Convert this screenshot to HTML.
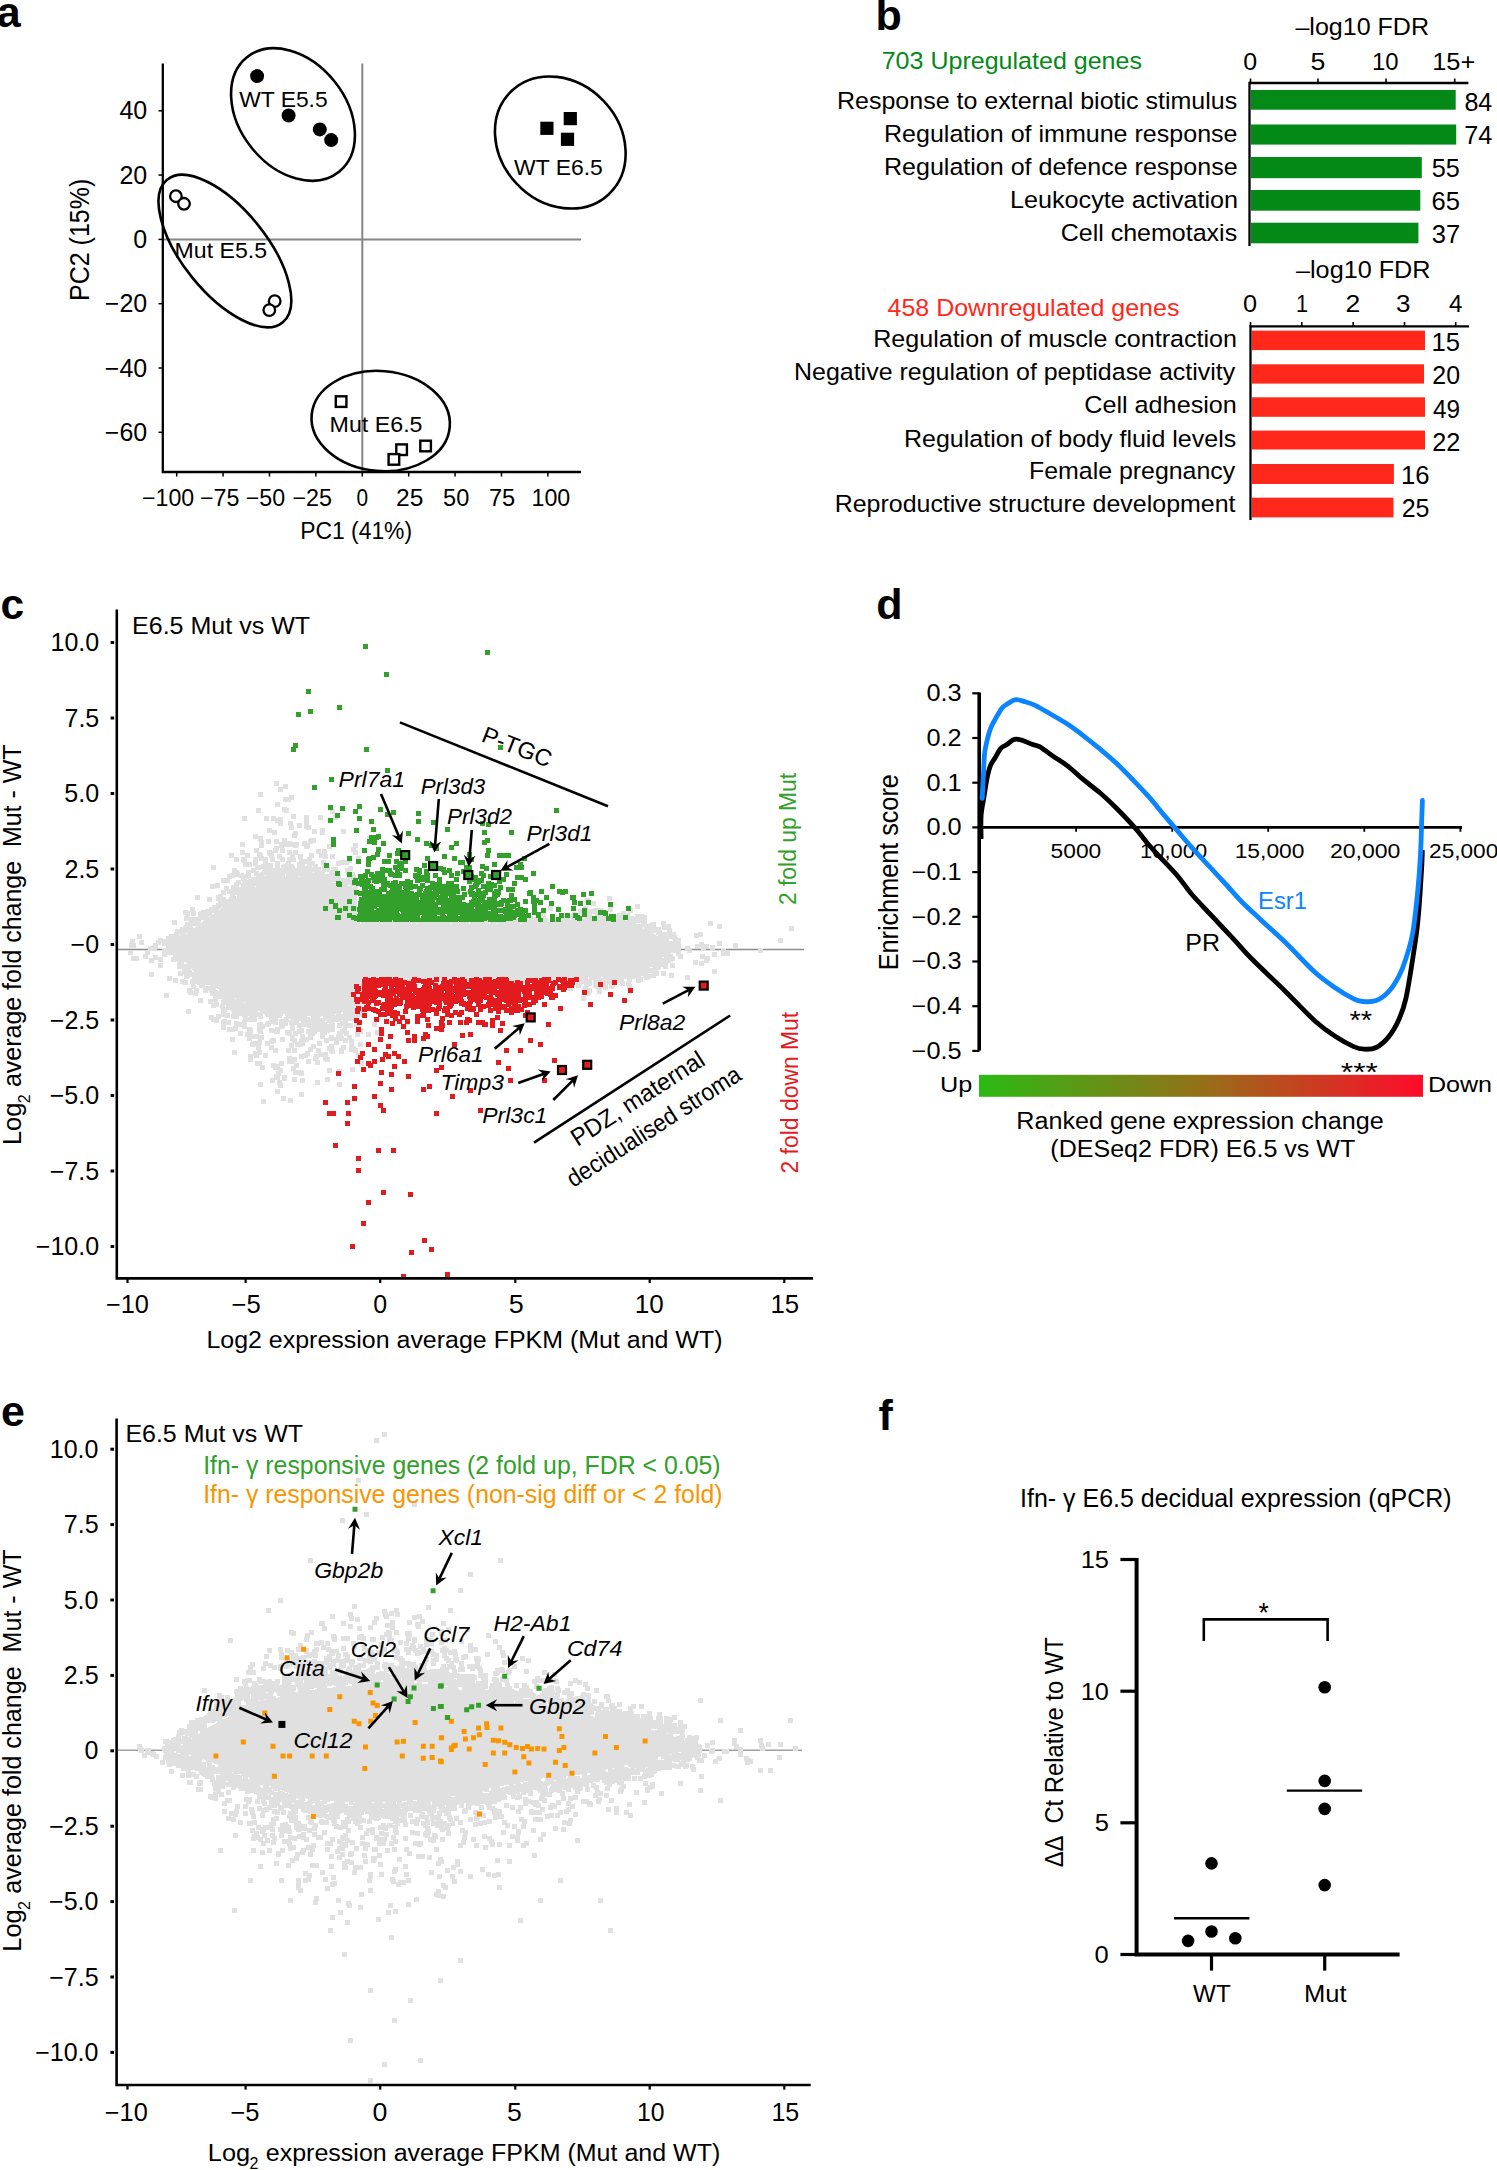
<!DOCTYPE html>
<html><head><meta charset="utf-8"><style>
html,body{margin:0;padding:0;background:#fff;}
svg{display:block;}
text{font-family:"Liberation Sans",sans-serif;white-space:pre;}
</style></head><body>
<svg width="1497" height="2170" viewBox="0 0 1497 2170">
<rect width="1497" height="2170" fill="#fff"/>
<text x="-3.3" y="26.7" font-size="43" textLength="23.9" lengthAdjust="spacingAndGlyphs" font-weight="bold">a</text>
<text x="875.4" y="29.9" font-size="43" textLength="26.3" lengthAdjust="spacingAndGlyphs" font-weight="bold">b</text>
<text x="0.4" y="619.2" font-size="43" textLength="23.6" lengthAdjust="spacingAndGlyphs" font-weight="bold">c</text>
<text x="876.2" y="618.7" font-size="43" textLength="26.3" lengthAdjust="spacingAndGlyphs" font-weight="bold">d</text>
<text x="1.0" y="1426.2" font-size="43" textLength="23.9" lengthAdjust="spacingAndGlyphs" font-weight="bold">e</text>
<text x="878.4" y="1430.2" font-size="43" textLength="14.3" lengthAdjust="spacingAndGlyphs" font-weight="bold">f</text>
<line x1="362.3" y1="63.5" x2="362.3" y2="472.0" stroke="#858585" stroke-width="2"/>
<line x1="162.8" y1="239.4" x2="581.0" y2="239.4" stroke="#858585" stroke-width="2"/>
<path d="M162.8 63.5V472H581" fill="none" stroke="#000" stroke-width="2.3"/>
<line x1="158.5" y1="110.8" x2="162.8" y2="110.8" stroke="#000" stroke-width="1.5"/>
<line x1="158.5" y1="175.1" x2="162.8" y2="175.1" stroke="#000" stroke-width="1.5"/>
<line x1="158.5" y1="239.4" x2="162.8" y2="239.4" stroke="#000" stroke-width="1.5"/>
<line x1="158.5" y1="303.7" x2="162.8" y2="303.7" stroke="#000" stroke-width="1.5"/>
<line x1="158.5" y1="368.0" x2="162.8" y2="368.0" stroke="#000" stroke-width="1.5"/>
<line x1="158.5" y1="432.3" x2="162.8" y2="432.3" stroke="#000" stroke-width="1.5"/>
<line x1="176.7" y1="472.0" x2="176.7" y2="476.5" stroke="#000" stroke-width="1.5"/>
<line x1="223.1" y1="472.0" x2="223.1" y2="476.5" stroke="#000" stroke-width="1.5"/>
<line x1="269.5" y1="472.0" x2="269.5" y2="476.5" stroke="#000" stroke-width="1.5"/>
<line x1="315.9" y1="472.0" x2="315.9" y2="476.5" stroke="#000" stroke-width="1.5"/>
<line x1="362.3" y1="472.0" x2="362.3" y2="476.5" stroke="#000" stroke-width="1.5"/>
<line x1="408.7" y1="472.0" x2="408.7" y2="476.5" stroke="#000" stroke-width="1.5"/>
<line x1="455.1" y1="472.0" x2="455.1" y2="476.5" stroke="#000" stroke-width="1.5"/>
<line x1="501.5" y1="472.0" x2="501.5" y2="476.5" stroke="#000" stroke-width="1.5"/>
<line x1="547.9" y1="472.0" x2="547.9" y2="476.5" stroke="#000" stroke-width="1.5"/>
<text x="119.4" y="119.4" font-size="25" textLength="27.8" lengthAdjust="spacingAndGlyphs">40</text>
<text x="119.4" y="183.7" font-size="25" textLength="27.8" lengthAdjust="spacingAndGlyphs">20</text>
<text x="133.3" y="248.0" font-size="25" textLength="13.9" lengthAdjust="spacingAndGlyphs">0</text>
<text x="104.8" y="312.3" font-size="25" textLength="42.4" lengthAdjust="spacingAndGlyphs">−20</text>
<text x="104.8" y="376.6" font-size="25" textLength="42.4" lengthAdjust="spacingAndGlyphs">−40</text>
<text x="104.8" y="440.9" font-size="25" textLength="42.4" lengthAdjust="spacingAndGlyphs">−60</text>
<text x="142.1" y="506.2" font-size="23" textLength="52.1" lengthAdjust="spacingAndGlyphs">−100</text>
<text x="200.0" y="506.2" font-size="23" textLength="39.5" lengthAdjust="spacingAndGlyphs">−75</text>
<text x="245.8" y="506.2" font-size="23" textLength="39.4" lengthAdjust="spacingAndGlyphs">−50</text>
<text x="292.5" y="506.2" font-size="23" textLength="39.5" lengthAdjust="spacingAndGlyphs">−25</text>
<text x="356.4" y="506.2" font-size="23" textLength="11.6" lengthAdjust="spacingAndGlyphs">0</text>
<text x="396.1" y="506.2" font-size="23" textLength="27.3" lengthAdjust="spacingAndGlyphs">25</text>
<text x="443.1" y="506.2" font-size="23" textLength="26.2" lengthAdjust="spacingAndGlyphs">50</text>
<text x="488.9" y="506.2" font-size="23" textLength="26.3" lengthAdjust="spacingAndGlyphs">75</text>
<text x="531.5" y="506.2" font-size="23" textLength="38.7" lengthAdjust="spacingAndGlyphs">100</text>
<text x="300.2" y="538.7" font-size="23.3" textLength="111.9" lengthAdjust="spacingAndGlyphs">PC1 (41%)</text>
<g transform="translate(89.0,299.0) rotate(-90)"><text x="-2.0" y="0.0" font-size="27" textLength="122.3" lengthAdjust="spacingAndGlyphs">PC2 (15%)</text></g>
<g fill="none" stroke="#000" stroke-width="2.6">
<ellipse cx="293" cy="114.5" rx="73.5" ry="53.1" transform="rotate(51.2 293 114.5)"/>
<ellipse cx="224.9" cy="251" rx="91.8" ry="42.1" transform="rotate(51.1 224.9 251)"/>
<ellipse cx="560.3" cy="142.5" rx="70.9" ry="60" transform="rotate(46.8 560.3 142.5)"/>
<ellipse cx="380.7" cy="421" rx="69.3" ry="50" transform="rotate(5 380.7 421)"/>
</g>
<circle cx="257.1" cy="76.1" r="7"/>
<circle cx="288.6" cy="115.5" r="7"/>
<circle cx="319.8" cy="129.4" r="7"/>
<circle cx="331.2" cy="140.1" r="7"/>
<circle cx="175.9" cy="196.2" r="5.8" fill="#fff" stroke="#000" stroke-width="2.3"/>
<circle cx="184" cy="203.8" r="5.8" fill="#fff" stroke="#000" stroke-width="2.3"/>
<circle cx="274.7" cy="301.1" r="5.8" fill="#fff" stroke="#000" stroke-width="2.3"/>
<circle cx="269.3" cy="310.1" r="5.8" fill="#fff" stroke="#000" stroke-width="2.3"/>
<rect x="540.3" y="121.7" width="13.2" height="13.2"/>
<rect x="563.7" y="112.0" width="13.2" height="13.2"/>
<rect x="560.9" y="132.7" width="13.2" height="13.2"/>
<rect x="335.8" y="396.3" width="10.6" height="10.6" fill="#fff" stroke="#000" stroke-width="2.4"/>
<rect x="396.3" y="444.4" width="10.6" height="10.6" fill="#fff" stroke="#000" stroke-width="2.4"/>
<rect x="420.3" y="440.7" width="10.6" height="10.6" fill="#fff" stroke="#000" stroke-width="2.4"/>
<rect x="388.6" y="454.1" width="10.6" height="10.6" fill="#fff" stroke="#000" stroke-width="2.4"/>
<text x="239.2" y="107.1" font-size="22.5" textLength="88.5" lengthAdjust="spacingAndGlyphs">WT E5.5</text>
<text x="174.6" y="258.4" font-size="22.5" textLength="92.4" lengthAdjust="spacingAndGlyphs">Mut E5.5</text>
<text x="514.1" y="174.6" font-size="22.5" textLength="88.7" lengthAdjust="spacingAndGlyphs">WT E6.5</text>
<text x="329.6" y="432.0" font-size="22.5" textLength="92.9" lengthAdjust="spacingAndGlyphs">Mut E6.5</text>
<text x="1295.4" y="34.5" font-size="23" textLength="133.6" lengthAdjust="spacingAndGlyphs">–log10 FDR</text>
<text x="881.7" y="68.6" font-size="24.5" textLength="260.3" lengthAdjust="spacingAndGlyphs" fill="#038a16">703 Upregulated genes</text>
<path d="M1249.5 246V83H1468.4" fill="none" stroke="#000" stroke-width="2.3"/>
<line x1="1250.5" y1="78.5" x2="1250.5" y2="83.0" stroke="#000" stroke-width="1.6"/>
<line x1="1318.0" y1="78.5" x2="1318.0" y2="83.0" stroke="#000" stroke-width="1.6"/>
<line x1="1386.0" y1="78.5" x2="1386.0" y2="83.0" stroke="#000" stroke-width="1.6"/>
<line x1="1454.7" y1="78.5" x2="1454.7" y2="83.0" stroke="#000" stroke-width="1.6"/>
<text x="1243.2" y="69.9" font-size="23" textLength="13.9" lengthAdjust="spacingAndGlyphs">0</text>
<text x="1310.6" y="69.9" font-size="23" textLength="14.9" lengthAdjust="spacingAndGlyphs">5</text>
<text x="1372.0" y="69.9" font-size="23" textLength="26.6" lengthAdjust="spacingAndGlyphs">10</text>
<text x="1432.2" y="69.9" font-size="23" textLength="43.1" lengthAdjust="spacingAndGlyphs">15+</text>
<rect x="1251" y="90" width="204.7" height="19.7" fill="#038a16"/>
<text x="837.0" y="109.1" font-size="24.5" textLength="400.2" lengthAdjust="spacingAndGlyphs">Response to external biotic stimulus</text>
<text x="1464.4" y="111.0" font-size="25.5" textLength="27.9" lengthAdjust="spacingAndGlyphs">84</text>
<rect x="1251" y="124.5" width="205.2" height="20.1" fill="#038a16"/>
<text x="884.0" y="142.2" font-size="24.5" textLength="353.5" lengthAdjust="spacingAndGlyphs">Regulation of immune response</text>
<text x="1464.2" y="144.1" font-size="25.5" textLength="28.1" lengthAdjust="spacingAndGlyphs">74</text>
<rect x="1251" y="157" width="170.8" height="21.2" fill="#038a16"/>
<text x="884.0" y="175.4" font-size="24.5" textLength="353.6" lengthAdjust="spacingAndGlyphs">Regulation of defence response</text>
<text x="1431.8" y="177.3" font-size="25.5" textLength="28.1" lengthAdjust="spacingAndGlyphs">55</text>
<rect x="1251" y="190" width="169.3" height="20.7" fill="#038a16"/>
<text x="1010.0" y="208.4" font-size="24.5" textLength="228.1" lengthAdjust="spacingAndGlyphs">Leukocyte activation</text>
<text x="1431.5" y="210.3" font-size="25.5" textLength="28.4" lengthAdjust="spacingAndGlyphs">65</text>
<rect x="1251" y="222.7" width="167.4" height="20.6" fill="#038a16"/>
<text x="1060.7" y="241.3" font-size="24.5" textLength="176.5" lengthAdjust="spacingAndGlyphs">Cell chemotaxis</text>
<text x="1431.8" y="243.2" font-size="25.5" textLength="28.4" lengthAdjust="spacingAndGlyphs">37</text>
<text x="1296.0" y="277.7" font-size="23" textLength="134.5" lengthAdjust="spacingAndGlyphs">–log10 FDR</text>
<text x="887.5" y="315.9" font-size="24.5" textLength="291.9" lengthAdjust="spacingAndGlyphs" fill="#ff281a">458 Downregulated genes</text>
<path d="M1250.5 520V326.4H1469" fill="none" stroke="#000" stroke-width="2.3"/>
<line x1="1250.5" y1="322.0" x2="1250.5" y2="326.4" stroke="#000" stroke-width="1.6"/>
<line x1="1301.8" y1="322.0" x2="1301.8" y2="326.4" stroke="#000" stroke-width="1.6"/>
<line x1="1353.2" y1="322.0" x2="1353.2" y2="326.4" stroke="#000" stroke-width="1.6"/>
<line x1="1404.5" y1="322.0" x2="1404.5" y2="326.4" stroke="#000" stroke-width="1.6"/>
<line x1="1455.7" y1="322.0" x2="1455.7" y2="326.4" stroke="#000" stroke-width="1.6"/>
<text x="1243.0" y="312.4" font-size="23" textLength="14.1" lengthAdjust="spacingAndGlyphs">0</text>
<text x="1295.9" y="312.4" font-size="23" textLength="12.1" lengthAdjust="spacingAndGlyphs">1</text>
<text x="1345.6" y="312.4" font-size="23" textLength="14.8" lengthAdjust="spacingAndGlyphs">2</text>
<text x="1396.0" y="312.4" font-size="23" textLength="14.4" lengthAdjust="spacingAndGlyphs">3</text>
<text x="1448.9" y="312.4" font-size="23" textLength="13.4" lengthAdjust="spacingAndGlyphs">4</text>
<rect x="1252" y="330.6" width="173.0" height="19.5" fill="#ff281a"/>
<text x="873.2" y="347.3" font-size="24.5" textLength="363.8" lengthAdjust="spacingAndGlyphs">Regulation of muscle contraction</text>
<text x="1431.6" y="350.5" font-size="25.5" textLength="28.5" lengthAdjust="spacingAndGlyphs">15</text>
<rect x="1252" y="364.3" width="172.0" height="19.3" fill="#ff281a"/>
<text x="794.0" y="380.4" font-size="24.5" textLength="441.2" lengthAdjust="spacingAndGlyphs">Negative regulation of peptidase activity</text>
<text x="1432.3" y="384.4" font-size="25.5" textLength="27.7" lengthAdjust="spacingAndGlyphs">20</text>
<rect x="1252" y="397.3" width="173.0" height="19.5" fill="#ff281a"/>
<text x="1084.2" y="413.0" font-size="24.5" textLength="152.7" lengthAdjust="spacingAndGlyphs">Cell adhesion</text>
<text x="1433.0" y="418.3" font-size="25.5" textLength="27.1" lengthAdjust="spacingAndGlyphs">49</text>
<rect x="1252" y="430.6" width="173.0" height="18.9" fill="#ff281a"/>
<text x="904.0" y="446.7" font-size="24.5" textLength="332.2" lengthAdjust="spacingAndGlyphs">Regulation of body fluid levels</text>
<text x="1432.2" y="450.5" font-size="25.5" textLength="28.1" lengthAdjust="spacingAndGlyphs">22</text>
<rect x="1252" y="464" width="141.9" height="20.0" fill="#ff281a"/>
<text x="1029.0" y="479.4" font-size="24.5" textLength="206.2" lengthAdjust="spacingAndGlyphs">Female pregnancy</text>
<text x="1401.0" y="484.3" font-size="25.5" textLength="28.5" lengthAdjust="spacingAndGlyphs">16</text>
<rect x="1252" y="497.7" width="141.5" height="19.7" fill="#ff281a"/>
<text x="834.7" y="512.4" font-size="24.5" textLength="400.8" lengthAdjust="spacingAndGlyphs">Reproductive structure development</text>
<text x="1401.7" y="517.2" font-size="25.5" textLength="27.8" lengthAdjust="spacingAndGlyphs">25</text>
<line x1="118.0" y1="949.5" x2="804.0" y2="949.5" stroke="#8c8c8c" stroke-width="1.3"/>
<path d="M274 781h5v5h-5zM283 784h5v3h-5zM278 787h10v2h-10zM278 789h5v3h-5zM258 792h5v5h-5zM289 795h5v2h-5zM283 797h11v3h-11zM283 800h8v2h-8zM275 802h5v5h-5zM282 807h5v1h-5zM282 808h7v4h-7zM256 808h5v5h-5zM284 812h5v1h-5zM330 809h5v5h-5zM271 816h5v2h-5zM278 817h5v1h-5zM291 814h5v5h-5zM318 815h5v5h-5zM333 815h5v5h-5zM242 816h5v5h-5zM264 816h5v5h-5zM271 818h12v3h-12zM275 821h8v2h-8zM304 815h5v10h-5zM288 821h5v4h-5zM278 823h5v3h-5zM288 825h6v1h-6zM297 823h5v5h-5zM304 825h7v4h-7zM289 826h5v4h-5zM267 828h5v2h-5zM306 829h5v1h-5zM267 830h10v3h-10zM293 831h5v2h-5zM312 829h5v5h-5zM341 829h5v5h-5zM320 828h5v7h-5zM272 833h5v2h-5zM292 833h6v3h-6zM253 834h5v2h-5zM292 836h5v2h-5zM253 836h10v3h-10zM309 838h7v1h-7zM258 839h5v1h-5zM367 836h5v5h-5zM282 838h5v3h-5zM258 840h6v1h-6zM274 839h5v3h-5zM282 841h10v1h-10zM308 839h8v4h-8zM302 841h5v2h-5zM266 839h5v5h-5zM274 842h25v2h-25zM302 843h11v1h-11zM279 844h20v2h-20zM302 844h8v2h-8zM240 842h5v5h-5zM353 843h5v4h-5zM274 846h25v1h-25zM259 841h5v7h-5zM304 846h6v2h-6zM293 847h5v1h-5zM274 847h10v1h-10zM351 847h7v1h-7zM327 844h5v5h-5zM304 848h5v1h-5zM351 848h5v2h-5zM273 848h6v3h-6zM267 850h5v1h-5zM254 848h5v4h-5zM351 850h7v2h-7zM280 848h5v5h-5zM322 849h5v4h-5zM316 849h5v4h-5zM240 850h5v3h-5zM287 850h5v3h-5zM293 850h5v3h-5zM267 851h11v2h-11zM254 852h8v1h-8zM287 853h11v1h-11zM316 853h11v1h-11zM353 852h5v3h-5zM240 853h10v2h-10zM267 853h7v2h-7zM287 854h16v1h-16zM257 853h6v3h-6zM268 855h6v1h-6zM229 853h5v4h-5zM309 853h5v4h-5zM277 854h5v3h-5zM290 855h5v2h-5zM245 855h5v2h-5zM269 856h5v1h-5zM257 856h7v1h-7zM319 854h9v4h-9zM253 857h15v1h-15zM241 857h9v1h-9zM307 857h7v1h-7zM269 857h6v1h-6zM229 857h10v1h-10zM330 854h5v5h-5zM298 855h5v4h-5zM277 857h8v2h-8zM307 858h5v1h-5zM323 858h5v1h-5zM347 858h5v2h-5zM356 856h5v5h-5zM287 857h9v4h-9zM270 858h5v3h-5zM259 858h9v3h-9zM299 859h13v2h-13zM280 859h5v2h-5zM339 860h13v1h-13zM241 858h6v4h-6zM234 858h5v4h-5zM286 861h10v1h-10zM299 861h16v1h-16zM270 861h15v1h-15zM321 860h5v3h-5zM336 861h16v2h-16zM263 861h5v2h-5zM286 862h5v1h-5zM242 862h10v1h-10zM297 862h18v2h-18zM285 863h6v1h-6zM263 863h10v1h-10zM253 858h5v7h-5zM321 863h7v2h-7zM336 863h13v2h-13zM261 864h12v1h-12zM282 864h12v1h-12zM307 864h11v2h-11zM297 864h8v2h-8zM323 865h6v1h-6zM336 865h5v1h-5zM253 865h20v1h-20zM281 865h13v1h-13zM243 863h9v4h-9zM297 866h15v1h-15zM313 866h5v1h-5zM322 866h7v1h-7zM275 862h5v6h-5zM255 866h18v2h-18zM281 866h14v2h-14zM348 866h5v2h-5zM297 867h24v1h-24zM251 868h70v1h-70zM211 865h5v5h-5zM331 867h7v3h-7zM322 867h8v3h-8zM232 868h5v2h-5zM263 869h58v1h-58zM251 869h10v1h-10zM345 868h8v3h-8zM262 870h59v1h-59zM246 870h10v1h-10zM322 870h16v1h-16zM232 870h7v2h-7zM345 871h6v1h-6zM262 871h76v1h-76zM246 871h13v2h-13zM260 872h53v1h-53zM314 872h11v1h-11zM329 872h5v1h-5zM232 872h8v1h-8zM345 872h10v1h-10zM246 873h5v1h-5zM329 873h6v1h-6zM230 873h14v1h-14zM254 873h71v1h-71zM346 873h9v2h-9zM254 874h31v1h-31zM286 874h49v1h-49zM286 875h55v1h-55zM266 875h19v1h-19zM254 875h11v1h-11zM227 874h24v3h-24zM300 876h41v1h-41zM286 876h13v1h-13zM256 876h29v1h-29zM347 875h9v3h-9zM227 877h8v1h-8zM239 877h102v1h-102zM221 878h11v1h-11zM251 878h105v1h-105zM241 878h8v1h-8zM241 879h6v1h-6zM248 879h108v1h-108zM425 876h5v5h-5zM358 877h5v4h-5zM236 880h119v1h-119zM242 881h121v1h-121zM236 881h5v1h-5zM221 879h9v4h-9zM242 882h91v1h-91zM337 882h22v1h-22zM234 882h7v1h-7zM215 883h5v1h-5zM234 883h102v1h-102zM340 883h19v1h-19zM234 884h106v1h-106zM342 884h17v1h-17zM350 885h9v1h-9zM241 885h107v1h-107zM231 885h8v2h-8zM256 886h102v1h-102zM241 886h14v1h-14zM210 884h10v4h-10zM231 887h121v1h-121zM353 887h5v1h-5zM224 886h5v3h-5zM231 888h126v1h-126zM210 888h5v1h-5zM224 889h133v1h-133zM221 890h137v1h-137zM449 887h5v5h-5zM227 891h131v3h-131zM221 891h5v3h-5zM465 890h5v5h-5zM218 894h8v1h-8zM230 894h128v1h-128zM230 895h5v1h-5zM216 895h7v2h-7zM230 896h6v1h-6zM237 895h120v3h-120zM229 897h7v1h-7zM216 897h10v2h-10zM229 898h128v1h-128zM195 895h5v5h-5zM607 896h5v5h-5zM491 896h5v5h-5zM216 899h141v2h-141zM207 897h5v5h-5zM585 898h5v5h-5zM218 901h139v2h-139zM216 903h141v2h-141zM591 901h5v5h-5zM212 905h145v2h-145zM222 907h135v1h-135zM209 907h12v1h-12zM635 904h5v5h-5zM583 906h5v3h-5zM209 908h148v1h-148zM593 908h10v1h-10zM220 909h137v1h-137zM205 909h14v1h-14zM578 909h25v1h-25zM548 906h5v5h-5zM190 907h5v4h-5zM201 910h156v1h-156zM183 910h5v1h-5zM608 907h5v5h-5zM578 910h29v2h-29zM199 911h158v1h-158zM183 911h13v1h-13zM628 908h5v5h-5zM621 911h5v2h-5zM198 912h159v1h-159zM578 912h30v2h-30zM572 912h5v2h-5zM198 913h14v1h-14zM214 913h143v1h-143zM183 912h7v3h-7zM617 913h13v2h-13zM595 914h17v1h-17zM635 914h9v1h-9zM191 912h5v4h-5zM583 914h9v2h-9zM198 914h159v2h-159zM568 914h9v2h-9zM360 915h5v1h-5zM185 915h5v1h-5zM595 915h35v1h-35zM515 915h5v1h-5zM541 913h5v4h-5zM635 915h12v2h-12zM594 916h40v1h-40zM198 916h11v1h-11zM561 916h16v1h-16zM184 916h5v1h-5zM528 916h5v1h-5zM376 916h5v1h-5zM210 916h155v1h-155zM583 916h10v1h-10zM513 916h7v2h-7zM397 917h8v1h-8zM594 917h53v1h-53zM409 917h5v1h-5zM418 917h6v1h-6zM584 917h9v1h-9zM524 917h22v1h-22zM445 917h13v1h-13zM386 914h5v5h-5zM555 917h18v2h-18zM184 917h181v2h-181zM370 917h11v2h-11zM496 918h10v1h-10zM482 918h5v1h-5zM431 918h10v1h-10zM585 918h62v1h-62zM576 918h5v1h-5zM513 918h9v1h-9zM425 918h5v1h-5zM489 917h6v3h-6zM463 917h10v3h-10zM397 918h27v2h-27zM443 918h19v2h-19zM571 919h76v1h-76zM383 919h5v1h-5zM184 919h197v1h-197zM475 919h12v1h-12zM555 919h15v1h-15zM425 919h17v1h-17zM524 918h24v3h-24zM496 919h26v2h-26zM443 920h30v1h-30zM475 920h20v1h-20zM397 920h45v1h-45zM184 920h17v1h-17zM627 920h20v1h-20zM204 920h184v1h-184zM555 920h70v1h-70zM389 919h6v3h-6zM189 921h12v1h-12zM203 921h157v1h-157zM396 921h77v1h-77zM553 921h94v1h-94zM475 921h73v1h-73zM361 921h27v1h-27zM651 922h5v1h-5zM540 922h107v1h-107zM202 922h158v1h-158zM361 922h108v1h-108zM185 922h16v1h-16zM490 922h48v1h-48zM661 921h5v3h-5zM470 922h19v2h-19zM498 923h22v1h-22zM459 923h10v1h-10zM649 923h7v1h-7zM418 923h32v1h-32zM185 923h175v1h-175zM521 923h115v1h-115zM451 923h7v1h-7zM490 923h7v1h-7zM361 923h56v1h-56zM641 923h6v1h-6zM172 920h5v5h-5zM185 924h471v1h-471zM708 921h5v5h-5zM661 924h10v2h-10zM184 925h472v1h-472zM196 926h460v1h-460zM183 926h10v1h-10zM662 926h9v2h-9zM180 927h13v1h-13zM195 927h448v1h-448zM717 924h5v5h-5zM644 927h17v2h-17zM180 928h463v1h-463zM662 928h10v2h-10zM175 929h486v1h-486zM789 926h5v5h-5zM175 930h487v2h-487zM667 930h5v2h-5zM174 932h502v1h-502zM698 932h5v1h-5zM187 933h466v1h-466zM174 933h12v1h-12zM656 933h20v2h-20zM180 934h475v1h-475zM169 934h10v1h-10zM658 935h19v1h-19zM169 935h487v1h-487zM694 933h9v4h-9zM166 936h511v1h-511zM166 937h512v1h-512zM694 937h5v1h-5zM137 934h5v5h-5zM158 938h5v1h-5zM166 938h515v1h-515zM158 939h511v1h-511zM672 939h9v1h-9zM156 940h513v1h-513zM673 940h8v1h-8zM778 938h5v5h-5zM130 939h5v4h-5zM156 941h525v2h-525zM699 942h5v2h-5zM139 940h5v5h-5zM153 943h8v2h-8zM717 941h5v5h-5zM162 943h519v3h-519zM152 945h6v1h-6zM695 944h14v3h-14zM129 943h7v5h-7zM733 943h5v5h-5zM685 946h5v2h-5zM148 946h10v2h-10zM166 946h515v3h-515zM701 947h8v2h-8zM695 947h5v2h-5zM710 945h5v5h-5zM148 948h9v2h-9zM685 948h7v3h-7zM721 949h5v2h-5zM701 949h5v2h-5zM145 950h8v1h-8zM758 948h5v5h-5zM162 949h519v4h-519zM687 951h5v2h-5zM145 951h5v3h-5zM676 953h5v1h-5zM162 953h509v1h-509zM128 950h5v5h-5zM143 954h7v1h-7zM162 954h511v1h-511zM721 951h9v5h-9zM700 954h5v2h-5zM676 954h7v2h-7zM173 955h500v1h-500zM712 952h5v5h-5zM153 955h5v2h-5zM162 955h5v2h-5zM173 956h502v1h-502zM664 957h11v1h-11zM171 957h491v1h-491zM153 957h10v1h-10zM143 955h5v4h-5zM700 956h10v3h-10zM678 956h5v3h-5zM149 958h14v2h-14zM131 956h8v5h-8zM171 958h504v3h-504zM704 959h6v2h-6zM158 960h5v2h-5zM171 961h5v1h-5zM177 961h496v1h-496zM149 960h5v3h-5zM699 961h10v2h-10zM186 962h485v1h-485zM177 962h7v2h-7zM187 963h481v1h-481zM693 960h5v5h-5zM699 963h5v3h-5zM177 964h491v3h-491zM670 963h5v5h-5zM158 963h5v5h-5zM177 967h473v1h-473zM653 967h8v1h-8zM663 967h5v2h-5zM177 968h484v1h-484zM182 969h9v1h-9zM192 969h468v1h-468zM182 970h10v1h-10zM193 970h465v1h-465zM194 971h465v1h-465zM178 971h14v1h-14zM178 972h481v1h-481zM712 969h5v5h-5zM651 973h8v1h-8zM178 973h470v1h-470zM178 974h481v1h-481zM661 971h5v5h-5zM178 975h5v1h-5zM184 975h475v1h-475zM149 972h5v5h-5zM643 976h13v1h-13zM184 976h457v1h-457zM669 973h5v5h-5zM603 977h53v1h-53zM192 977h396v1h-396zM184 977h6v1h-6zM589 977h12v1h-12zM488 978h46v1h-46zM184 978h5v1h-5zM589 978h46v1h-46zM402 978h38v1h-38zM441 978h21v1h-21zM475 978h12v1h-12zM541 978h47v1h-47zM192 978h186v1h-186zM466 978h8v1h-8zM379 978h21v1h-21zM644 978h7v1h-7zM685 975h5v5h-5zM580 979h44v1h-44zM390 979h50v1h-50zM378 979h10v1h-10zM180 979h5v1h-5zM644 979h5v1h-5zM541 979h37v1h-37zM441 979h33v1h-33zM475 979h59v1h-59zM167 976h5v5h-5zM627 979h5v2h-5zM508 980h24v1h-24zM541 980h20v1h-20zM593 980h31v1h-31zM580 980h12v1h-12zM492 980h11v1h-11zM563 980h14v1h-14zM636 978h7v4h-7zM190 979h187v3h-187zM378 980h62v2h-62zM527 981h5v1h-5zM497 981h6v1h-6zM626 981h6v1h-6zM508 981h18v1h-18zM563 981h29v1h-29zM173 978h5v5h-5zM441 980h48v3h-48zM409 982h12v1h-12zM425 982h15v1h-15zM497 982h5v1h-5zM577 982h15v1h-15zM636 982h5v1h-5zM521 982h5v1h-5zM378 982h29v1h-29zM508 982h11v1h-11zM364 982h13v1h-13zM180 980h8v4h-8zM541 981h7v3h-7zM550 981h9v3h-9zM593 981h24v3h-24zM626 982h5v2h-5zM190 982h172v2h-172zM576 983h16v1h-16zM508 983h10v1h-10zM450 983h5v1h-5zM387 983h17v1h-17zM378 983h8v1h-8zM434 983h14v1h-14zM459 983h30v1h-30zM533 980h5v5h-5zM619 981h6v4h-6zM563 982h6v3h-6zM409 983h8v2h-8zM426 983h7v2h-7zM395 984h5v1h-5zM483 984h5v1h-5zM387 984h5v1h-5zM197 984h165v1h-165zM380 984h6v1h-6zM434 984h8v1h-8zM443 984h5v1h-5zM471 984h8v1h-8zM609 984h8v1h-8zM183 984h5v1h-5zM570 982h5v4h-5zM626 984h6v2h-6zM576 984h6v2h-6zM584 984h8v2h-8zM620 985h5v1h-5zM199 985h6v1h-6zM210 985h152v1h-152zM609 985h6v2h-6zM568 986h7v1h-7zM583 986h6v1h-6zM593 984h15v4h-15zM191 984h5v4h-5zM437 985h5v3h-5zM576 986h5v2h-5zM199 986h163v2h-163zM582 987h6v1h-6zM627 986h5v3h-5zM609 987h5v2h-5zM595 988h13v1h-13zM187 988h12v1h-12zM217 988h145v1h-145zM203 988h13v2h-13zM603 989h5v1h-5zM187 989h5v1h-5zM568 987h5v4h-5zM194 989h5v2h-5zM219 989h143v2h-143zM187 990h6v1h-6zM203 990h15v1h-15zM407 987h5v5h-5zM582 988h10v5h-10zM509 988h5v5h-5zM187 991h12v2h-12zM203 991h5v2h-5zM209 991h153v2h-153zM597 989h5v5h-5zM582 993h9v2h-9zM188 993h10v2h-10zM210 993h152v3h-152zM585 995h5v1h-5zM193 995h5v1h-5zM164 993h5v5h-5zM213 996h149v2h-149zM213 998h22v1h-22zM236 998h126v1h-126zM222 999h140v1h-140zM581 996h5v5h-5zM471 997h5v5h-5zM208 999h10v3h-10zM221 1000h141v2h-141zM198 998h5v5h-5zM464 998h5v5h-5zM208 1002h5v1h-5zM221 1002h23v1h-23zM522 1002h5v1h-5zM214 1002h5v1h-5zM245 1002h117v1h-117zM208 1003h11v1h-11zM221 1003h141v1h-141zM220 1004h142v1h-142zM522 1003h7v4h-7zM211 1004h8v3h-8zM220 1005h5v2h-5zM226 1005h136v2h-136zM407 1003h5v5h-5zM211 1007h5v1h-5zM524 1007h5v1h-5zM426 1004h5v5h-5zM516 1004h5v5h-5zM220 1007h143v2h-143zM221 1009h142v1h-142zM231 1010h132v1h-132zM221 1010h6v2h-6zM260 1011h103v1h-103zM231 1011h27v1h-27zM232 1012h110v1h-110zM221 1012h5v1h-5zM186 1009h5v5h-5zM343 1012h20v2h-20zM221 1013h9v1h-9zM232 1013h109v1h-109zM285 1014h50v1h-50zM336 1014h27v1h-27zM265 1014h18v2h-18zM231 1014h32v2h-32zM285 1015h78v1h-78zM216 1014h14v3h-14zM209 1015h5v2h-5zM242 1016h6v1h-6zM266 1016h16v1h-16zM249 1016h14v1h-14zM311 1016h10v1h-10zM323 1016h40v1h-40zM286 1016h21v1h-21zM311 1017h9v1h-9zM323 1017h35v1h-35zM269 1017h13v1h-13zM225 1017h5v1h-5zM284 1017h26v1h-26zM231 1016h8v3h-8zM258 1017h5v2h-5zM209 1017h12v2h-12zM284 1018h74v1h-74zM243 1017h14v3h-14zM209 1019h10v1h-10zM279 1019h10v1h-10zM222 1019h5v1h-5zM291 1019h67v1h-67zM269 1018h9v3h-9zM279 1020h46v1h-46zM343 1020h16v1h-16zM326 1020h16v1h-16zM211 1020h8v2h-8zM242 1020h15v2h-15zM266 1021h12v1h-12zM327 1021h12v1h-12zM301 1021h24v1h-24zM279 1021h20v1h-20zM234 1021h5v1h-5zM340 1021h8v2h-8zM301 1022h33v1h-33zM258 1022h5v1h-5zM214 1022h5v1h-5zM289 1022h10v1h-10zM265 1022h13v2h-13zM329 1023h6v1h-6zM257 1023h6v1h-6zM289 1023h38v1h-38zM221 1020h10v5h-10zM405 1020h5v5h-5zM273 1024h5v1h-5zM289 1024h46v1h-46zM234 1022h13v4h-13zM279 1022h9v4h-9zM337 1023h16v3h-16zM257 1024h14v2h-14zM354 1021h5v6h-5zM372 1022h5v5h-5zM297 1025h38v2h-38zM279 1026h6v1h-6zM257 1026h13v1h-13zM233 1026h14v1h-14zM343 1026h10v2h-10zM337 1026h5v2h-5zM307 1027h28v1h-28zM297 1027h5v1h-5zM275 1027h10v1h-10zM242 1027h10v1h-10zM257 1027h8v2h-8zM269 1028h5v1h-5zM310 1028h25v1h-25zM342 1028h5v1h-5zM242 1028h11v1h-11zM275 1028h9v1h-9zM299 1028h5v1h-5zM221 1025h5v5h-5zM290 1025h5v5h-5zM227 1027h11v4h-11zM340 1029h7v2h-7zM297 1029h7v2h-7zM285 1030h10v1h-10zM306 1029h29v3h-29zM247 1029h6v3h-6zM358 1029h5v3h-5zM257 1029h6v3h-6zM227 1031h8v1h-8zM269 1029h11v4h-11zM293 1031h11v2h-11zM245 1032h8v1h-8zM320 1032h10v1h-10zM337 1031h12v3h-12zM355 1032h8v2h-8zM258 1032h5v2h-5zM306 1032h11v2h-11zM274 1033h6v1h-6zM245 1033h7v1h-7zM293 1033h9v1h-9zM375 1030h5v5h-5zM285 1031h7v4h-7zM320 1033h7v2h-7zM245 1034h14v1h-14zM344 1034h5v1h-5zM293 1034h5v1h-5zM238 1031h5v5h-5zM308 1034h7v2h-7zM336 1034h7v2h-7zM344 1035h8v1h-8zM287 1035h11v1h-11zM366 1032h5v5h-5zM300 1034h5v3h-5zM355 1034h5v3h-5zM329 1035h5v2h-5zM245 1035h19v2h-19zM336 1036h8v1h-8zM308 1036h5v1h-5zM320 1035h5v3h-5zM290 1036h5v2h-5zM347 1036h5v2h-5zM329 1037h15v1h-15zM247 1037h17v2h-17zM300 1037h13v2h-13zM271 1038h5v1h-5zM320 1038h32v1h-32zM299 1039h14v1h-14zM258 1039h6v1h-6zM324 1039h30v1h-30zM290 1038h7v3h-7zM269 1039h7v2h-7zM247 1039h5v2h-5zM257 1040h5v1h-5zM324 1040h24v1h-24zM299 1040h10v1h-10zM230 1037h5v5h-5zM280 1037h5v5h-5zM292 1041h5v1h-5zM298 1041h11v1h-11zM251 1041h11v1h-11zM343 1041h5v2h-5zM265 1041h11v2h-11zM324 1041h5v2h-5zM292 1042h13v1h-13zM334 1041h5v3h-5zM265 1043h9v1h-9zM250 1042h12v3h-12zM265 1044h5v1h-5zM329 1044h10v1h-10zM349 1040h5v6h-5zM317 1041h5v5h-5zM295 1043h10v3h-10zM265 1045h9v1h-9zM329 1045h5v1h-5zM250 1045h11v1h-11zM358 1042h5v5h-5zM311 1044h5v3h-5zM250 1046h5v1h-5zM295 1046h8v1h-8zM289 1043h5v5h-5zM341 1045h5v3h-5zM269 1046h5v2h-5zM349 1046h7v2h-7zM308 1047h8v1h-8zM327 1046h7v3h-7zM308 1048h13v1h-13zM256 1046h5v4h-5zM339 1048h7v2h-7zM269 1048h9v2h-9zM327 1049h8v2h-8zM308 1049h5v2h-5zM257 1050h5v1h-5zM349 1048h9v4h-9zM316 1049h5v3h-5zM305 1051h8v1h-8zM292 1048h5v5h-5zM286 1048h5v5h-5zM273 1050h5v3h-5zM329 1051h6v2h-6zM353 1052h5v1h-5zM316 1052h12v1h-12zM305 1052h5v1h-5zM339 1050h5v4h-5zM253 1051h9v3h-9zM330 1053h5v1h-5zM318 1053h10v1h-10zM303 1053h7v1h-7zM232 1050h5v5h-5zM248 1054h14v1h-14zM299 1054h11v2h-11zM314 1054h14v2h-14zM248 1055h11v1h-11zM313 1056h15v1h-15zM287 1056h5v1h-5zM356 1053h5v5h-5zM263 1053h5v5h-5zM299 1056h9v2h-9zM254 1056h5v2h-5zM313 1057h6v2h-6zM299 1058h5v1h-5zM313 1059h5v1h-5zM323 1057h7v4h-7zM313 1060h7v1h-7zM248 1056h5v6h-5zM287 1057h10v5h-10zM325 1061h5v1h-5zM287 1062h8v1h-8zM306 1059h5v5h-5zM279 1061h5v3h-5zM287 1063h12v1h-12zM271 1063h5v1h-5zM315 1061h5v4h-5zM255 1061h7v4h-7zM359 1061h5v5h-5zM271 1064h13v2h-13zM294 1064h5v2h-5zM255 1065h10v1h-10zM291 1066h8v2h-8zM271 1066h9v2h-9zM260 1066h5v4h-5zM291 1068h5v2h-5zM273 1068h10v2h-10zM278 1070h5v1h-5zM291 1070h12v1h-12zM350 1067h5v5h-5zM327 1068h5v5h-5zM276 1071h7v2h-7zM337 1069h5v5h-5zM276 1073h5v1h-5zM293 1071h11v4h-11zM274 1074h7v2h-7zM299 1075h5v1h-5zM274 1076h6v2h-6zM282 1075h5v5h-5zM270 1078h10v2h-10zM277 1080h10v1h-10zM292 1077h5v5h-5zM325 1077h5v5h-5zM300 1078h5v5h-5zM270 1080h5v3h-5zM277 1081h5v2h-5zM315 1080h5v5h-5zM277 1083h6v2h-6zM258 1082h5v5h-5zM337 1082h5v5h-5zM278 1085h5v3h-5zM275 1089h5v5h-5zM299 1092h5v5h-5zM281 1096h5v5h-5zM288 1098h5v5h-5zM261 1099h5v5h-5z" fill="#e0e0e0"/>
<path d="M363 644h5v5h-5zM485 650h5v5h-5zM384 672h5v5h-5zM306 689h5v5h-5zM337 705h5v5h-5zM308 709h5v5h-5zM296 712h5v5h-5zM293 743h5v4h-5zM291 747h7v1h-7zM498 745h5v5h-5zM364 747h5v5h-5zM291 748h5v4h-5zM385 768h5v5h-5zM329 777h5v5h-5zM312 785h5v5h-5zM357 804h5v5h-5zM328 805h5v5h-5zM340 806h5v5h-5zM378 807h5v5h-5zM554 808h5v5h-5zM353 809h5v5h-5zM391 810h5v5h-5zM416 811h5v5h-5zM385 812h5v5h-5zM335 813h5v5h-5zM357 816h5v5h-5zM328 818h5v5h-5zM369 819h5v5h-5zM416 819h5v5h-5zM431 820h5v5h-5zM480 821h5v5h-5zM486 822h5v5h-5zM371 827h5v5h-5zM445 827h5v5h-5zM354 828h5v5h-5zM482 830h5v5h-5zM509 830h5v5h-5zM376 834h5v1h-5zM406 831h5v5h-5zM369 835h12v4h-12zM485 838h5v2h-5zM367 839h12v1h-12zM415 837h5v5h-5zM482 840h8v3h-8zM424 841h5v2h-5zM367 840h10v4h-10zM454 841h5v4h-5zM482 843h5v2h-5zM372 844h5v1h-5zM381 841h5v5h-5zM424 843h10v3h-10zM449 845h10v1h-10zM331 837h5v10h-5zM429 846h10v2h-10zM449 846h5v4h-5zM396 848h5v3h-5zM434 848h5v3h-5zM376 847h5v5h-5zM362 848h5v5h-5zM486 848h5v5h-5zM395 851h6v3h-6zM375 852h5v3h-5zM395 854h5v2h-5zM371 855h9v1h-9zM467 852h5v5h-5zM367 856h13v1h-13zM497 853h14v5h-14zM387 853h5v5h-5zM485 853h5v5h-5zM442 854h5v5h-5zM366 857h10v3h-10zM452 856h5v5h-5zM522 856h5v5h-5zM425 856h5v5h-5zM347 856h5v5h-5zM394 859h5v2h-5zM403 859h5v2h-5zM366 860h6v1h-6zM469 857h5v5h-5zM356 859h5v5h-5zM382 859h9v5h-9zM394 861h14v3h-14zM458 860h7v5h-7zM518 862h5v3h-5zM397 864h7v1h-7zM480 864h5v2h-5zM366 861h5v6h-5zM492 862h5v5h-5zM438 866h5v1h-5zM422 863h5v5h-5zM324 863h5v5h-5zM393 865h11v3h-11zM380 867h5v1h-5zM414 867h5v1h-5zM464 865h8v4h-8zM480 866h9v3h-9zM393 868h5v1h-5zM399 868h9v1h-9zM514 865h10v5h-10zM431 865h5v5h-5zM438 867h8v3h-8zM447 868h5v2h-5zM393 869h15v1h-15zM461 869h11v1h-11zM380 868h12v3h-12zM484 869h5v2h-5zM395 870h13v1h-13zM438 870h14v1h-14zM414 868h8v4h-8zM365 869h5v3h-5zM375 871h18v1h-18zM441 871h11v1h-11zM395 871h5v1h-5zM424 869h5v4h-5zM479 871h5v2h-5zM403 871h5v2h-5zM417 872h5v1h-5zM365 872h9v1h-9zM395 872h7v1h-7zM442 872h10v1h-10zM375 872h19v1h-19zM461 870h5v4h-5zM493 872h5v2h-5zM363 873h11v1h-11zM413 873h9v1h-9zM375 873h10v1h-10zM442 873h5v2h-5zM424 873h6v2h-6zM413 874h8v1h-8zM469 874h5v1h-5zM455 871h5v5h-5zM531 871h5v5h-5zM335 871h5v5h-5zM388 873h14v3h-14zM479 873h7v3h-7zM347 872h5v5h-5zM504 872h5v5h-5zM433 873h5v4h-5zM449 873h5v4h-5zM488 874h10v3h-10zM369 874h16v3h-16zM515 875h9v2h-9zM389 876h13v1h-13zM358 874h10v4h-10zM413 875h17v3h-17zM469 875h9v3h-9zM481 876h5v2h-5zM393 877h9v1h-9zM449 877h10v1h-10zM433 877h9v1h-9zM371 877h16v1h-16zM488 877h5v2h-5zM501 877h5v2h-5zM366 878h21v1h-21zM414 878h16v1h-16zM469 878h15v1h-15zM353 878h12v1h-12zM515 877h13v3h-13zM353 879h5v1h-5zM405 879h5v1h-5zM359 879h28v1h-28zM454 878h5v3h-5zM415 879h15v2h-15zM352 880h6v1h-6zM393 880h5v1h-5zM359 880h12v1h-12zM405 880h8v1h-8zM372 880h15v1h-15zM437 878h5v4h-5zM467 879h17v3h-17zM497 879h9v3h-9zM523 880h5v2h-5zM415 881h20v1h-20zM336 881h5v1h-5zM446 881h13v1h-13zM486 881h5v1h-5zM391 881h7v2h-7zM372 881h18v2h-18zM352 881h19v2h-19zM497 882h5v1h-5zM474 882h10v1h-10zM415 882h5v1h-5zM486 882h8v1h-8zM425 882h17v1h-17zM399 881h14v3h-14zM446 882h8v2h-8zM467 882h5v2h-5zM352 883h18v1h-18zM486 883h16v1h-16zM374 883h5v1h-5zM430 883h12v1h-12zM473 883h8v1h-8zM381 883h17v1h-17zM473 884h7v1h-7zM352 884h21v1h-21zM430 884h29v1h-29zM512 881h5v5h-5zM336 882h6v4h-6zM420 883h5v3h-5zM381 884h37v2h-37zM428 885h31v1h-31zM356 885h17v1h-17zM469 885h10v2h-10zM381 886h21v1h-21zM360 886h15v1h-15zM337 886h5v1h-5zM481 884h16v4h-16zM403 886h56v2h-56zM388 887h14v1h-14zM469 887h9v1h-9zM550 884h5v5h-5zM498 885h5v4h-5zM362 887h13v2h-13zM379 887h8v2h-8zM469 888h24v1h-24zM425 888h34v1h-34zM403 888h20v1h-20zM390 888h12v2h-12zM424 889h36v1h-36zM563 889h5v1h-5zM369 889h18v1h-18zM404 889h9v1h-9zM485 889h8v1h-8zM468 889h6v1h-6zM557 889h5v1h-5zM494 889h9v1h-9zM362 889h6v1h-6zM461 886h5v5h-5zM476 889h5v2h-5zM417 889h6v2h-6zM433 890h27v1h-27zM389 890h21v1h-21zM483 890h10v1h-10zM494 890h7v1h-7zM528 890h5v1h-5zM362 890h25v1h-25zM354 890h5v1h-5zM468 890h5v1h-5zM424 890h8v1h-8zM506 887h9v5h-9zM417 891h5v1h-5zM468 891h7v1h-7zM476 891h25v1h-25zM354 891h60v1h-60zM423 891h37v2h-37zM415 892h7v1h-7zM386 892h28v1h-28zM539 889h5v5h-5zM557 890h11v4h-11zM468 892h20v2h-20zM354 892h28v2h-28zM386 893h74v1h-74zM527 891h6v4h-6zM462 892h5v3h-5zM492 892h9v3h-9zM440 894h16v1h-16zM469 894h19v1h-19zM560 894h5v1h-5zM354 894h85v1h-85zM589 891h5v5h-5zM527 895h9v1h-9zM358 895h109v1h-109zM581 892h5v5h-5zM509 893h5v4h-5zM469 895h17v2h-17zM492 895h8v2h-8zM449 896h18v1h-18zM362 896h86v1h-86zM531 896h5v2h-5zM478 897h8v1h-8zM487 897h11v1h-11zM509 897h8v1h-8zM449 897h16v1h-16zM420 897h17v1h-17zM472 897h5v1h-5zM438 897h10v1h-10zM501 898h5v1h-5zM472 898h13v1h-13zM507 898h10v1h-10zM570 895h6v5h-6zM544 895h5v5h-5zM359 897h60v3h-60zM531 898h8v2h-8zM487 898h10v2h-10zM420 898h45v2h-45zM471 899h14v1h-14zM501 899h16v1h-16zM499 900h18v1h-18zM359 900h76v1h-76zM469 900h28v1h-28zM436 900h26v2h-26zM358 901h77v1h-77zM469 901h48v1h-48zM329 899h5v4h-5zM531 900h12v3h-12zM358 902h108v1h-108zM469 902h44v1h-44zM523 899h5v5h-5zM347 899h5v5h-5zM515 902h5v2h-5zM329 903h9v1h-9zM531 903h6v1h-6zM505 903h5v1h-5zM482 903h22v1h-22zM358 903h123v1h-123zM586 900h5v5h-5zM572 900h5v5h-5zM538 903h5v2h-5zM358 904h146v1h-146zM578 901h5v5h-5zM549 901h5v5h-5zM441 905h63v1h-63zM608 902h5v5h-5zM505 904h15v3h-15zM358 905h80v2h-80zM441 906h62v1h-62zM333 904h5v4h-5zM357 907h20v1h-20zM379 907h95v1h-95zM518 907h5v1h-5zM475 907h22v1h-22zM503 907h13v1h-13zM333 908h9v1h-9zM357 908h117v1h-117zM475 908h53v1h-53zM515 909h13v1h-13zM376 909h137v1h-137zM357 909h17v1h-17zM571 906h5v5h-5zM626 906h5v5h-5zM323 906h5v5h-5zM351 906h5v5h-5zM343 906h5v5h-5zM491 910h37v1h-37zM598 910h8v1h-8zM357 910h131v1h-131zM532 904h5v8h-5zM556 907h5v5h-5zM541 908h5v4h-5zM400 911h128v1h-128zM357 911h42v1h-42zM337 909h5v4h-5zM401 912h127v1h-127zM358 912h41v1h-41zM532 912h14v1h-14zM526 913h5v1h-5zM401 913h97v1h-97zM503 913h22v1h-22zM358 913h42v1h-42zM598 911h10v4h-10zM573 913h5v2h-5zM347 913h5v2h-5zM532 913h9v2h-9zM504 914h27v1h-27zM447 914h56v1h-56zM357 914h88v1h-88zM582 908h5v8h-5zM609 914h7v2h-7zM603 915h5v1h-5zM422 915h15v1h-15zM447 915h11v1h-11zM440 915h6v1h-6zM347 915h9v1h-9zM357 915h63v1h-63zM460 915h71v1h-71zM573 915h7v1h-7zM559 913h5v4h-5zM421 916h110v1h-110zM573 916h14v1h-14zM565 913h5v5h-5zM536 915h5v3h-5zM347 916h73v2h-73zM421 917h96v1h-96zM519 917h12v1h-12zM573 917h9v1h-9zM556 917h8v1h-8zM623 915h5v5h-5zM335 915h6v5h-6zM575 918h7v2h-7zM351 918h165v2h-165zM606 916h10v5h-10zM592 916h5v5h-5zM577 920h5v1h-5zM354 920h38v1h-38zM393 920h94v1h-94zM488 920h25v1h-25zM550 914h5v8h-5zM518 918h9v4h-9zM538 918h5v4h-5zM556 918h5v4h-5zM410 921h48v1h-48zM380 921h12v1h-12zM357 921h22v1h-22zM459 921h25v1h-25zM611 921h5v1h-5zM393 921h16v1h-16zM488 921h18v1h-18z" fill="#33a02c"/>
<path d="M497 977h11v1h-11zM371 977h5v1h-5zM562 977h5v1h-5zM379 977h13v1h-13zM393 977h5v1h-5zM452 977h5v1h-5zM474 977h5v1h-5zM556 977h5v1h-5zM460 977h5v1h-5zM574 977h5v1h-5zM412 977h5v1h-5zM363 977h5v1h-5zM542 977h9v1h-9zM496 978h13v1h-13zM427 978h5v1h-5zM363 978h29v1h-29zM412 978h9v1h-9zM452 978h13v1h-13zM393 978h10v1h-10zM442 977h5v3h-5zM483 977h9v3h-9zM434 977h5v3h-5zM469 978h13v2h-13zM539 978h12v2h-12zM526 978h12v2h-12zM556 978h11v2h-11zM411 979h21v1h-21zM449 979h18v1h-18zM362 979h41v1h-41zM493 979h16v1h-16zM568 978h11v3h-11zM469 980h40v1h-40zM411 980h28v1h-28zM553 980h14v1h-14zM362 980h45v1h-45zM525 980h26v1h-26zM442 980h25v1h-25zM515 980h5v1h-5zM525 981h54v1h-54zM441 981h26v1h-26zM469 981h45v1h-45zM362 981h77v1h-77zM515 981h8v2h-8zM362 982h72v1h-72zM560 982h15v1h-15zM441 982h73v1h-73zM525 982h33v1h-33zM441 983h82v1h-82zM525 983h5v1h-5zM532 983h17v1h-17zM561 983h14v1h-14zM551 983h7v1h-7zM362 983h54v1h-54zM421 983h17v1h-17zM612 980h5v5h-5zM423 984h15v1h-15zM440 984h13v1h-13zM550 984h25v1h-25zM525 984h24v1h-24zM454 984h69v1h-69zM362 984h55v1h-55zM354 984h5v2h-5zM433 985h20v1h-20zM422 985h9v1h-9zM362 985h43v1h-43zM550 985h6v1h-6zM454 985h95v1h-95zM598 982h5v5h-5zM406 985h11v2h-11zM389 986h16v1h-16zM362 986h26v1h-26zM422 986h10v1h-10zM557 985h17v3h-17zM383 987h5v1h-5zM389 987h5v1h-5zM395 987h22v1h-22zM421 987h11v1h-11zM362 987h19v1h-19zM354 986h7v3h-7zM433 986h122v3h-122zM362 988h15v1h-15zM389 988h43v1h-43zM382 988h6v1h-6zM557 988h10v2h-10zM382 989h84v1h-84zM362 989h16v1h-16zM499 989h56v1h-56zM471 989h26v1h-26zM355 989h6v2h-6zM362 990h193v1h-193zM561 990h5v2h-5zM362 991h82v1h-82zM355 991h5v1h-5zM445 991h87v1h-87zM628 988h5v5h-5zM534 991h19v2h-19zM351 992h61v1h-61zM413 992h31v1h-31zM445 992h76v1h-76zM522 992h10v2h-10zM455 993h66v1h-66zM351 993h103v1h-103zM582 990h5v5h-5zM534 993h24v2h-24zM489 994h32v1h-32zM397 994h90v1h-90zM523 994h9v1h-9zM360 994h36v2h-36zM545 995h13v1h-13zM416 995h77v1h-77zM397 995h18v1h-18zM608 992h5v5h-5zM351 994h5v3h-5zM495 995h26v2h-26zM523 995h21v2h-21zM360 996h33v1h-33zM394 996h72v1h-72zM467 996h26v1h-26zM548 996h10v1h-10zM400 997h63v1h-63zM381 997h12v1h-12zM394 997h5v1h-5zM467 997h27v1h-27zM549 997h9v1h-9zM354 997h24v1h-24zM497 997h47v1h-47zM467 998h77v1h-77zM385 998h78v1h-78zM354 998h23v1h-23zM549 998h6v2h-6zM385 999h79v1h-79zM484 999h57v1h-57zM370 999h6v1h-6zM354 999h15v1h-15zM468 999h15v2h-15zM405 1000h59v1h-59zM487 1000h41v2h-41zM385 1000h18v2h-18zM531 1000h7v2h-7zM354 1000h27v2h-27zM467 1001h16v1h-16zM443 1001h23v1h-23zM622 998h5v5h-5zM523 1002h15v1h-15zM443 1002h30v1h-30zM382 1002h21v1h-21zM362 1002h19v1h-19zM504 1002h18v1h-18zM475 1002h8v1h-8zM405 1001h37v3h-37zM355 1002h5v2h-5zM486 1002h16v2h-16zM459 1003h14v1h-14zM444 1003h14v1h-14zM506 1003h12v1h-12zM476 1003h5v1h-5zM362 1003h9v1h-9zM374 1003h29v2h-29zM522 1003h14v2h-14zM366 1004h5v1h-5zM476 1004h45v1h-45zM444 1004h10v1h-10zM434 1004h8v1h-8zM459 1004h13v2h-13zM404 1004h28v2h-28zM437 1005h5v1h-5zM476 1005h35v1h-35zM512 1005h9v1h-9zM381 1005h21v1h-21zM364 1005h6v1h-6zM374 1005h5v1h-5zM447 1005h7v1h-7zM588 1002h5v5h-5zM542 1002h5v5h-5zM522 1005h10v2h-10zM404 1006h27v1h-27zM462 1006h59v1h-59zM380 1006h17v1h-17zM364 1006h7v1h-7zM443 1006h10v2h-10zM356 1006h5v2h-5zM436 1006h6v2h-6zM362 1007h14v1h-14zM509 1007h18v1h-18zM493 1007h14v1h-14zM478 1007h13v1h-13zM404 1007h31v1h-31zM380 1007h14v2h-14zM478 1008h8v1h-8zM411 1008h41v1h-41zM362 1008h16v1h-16zM404 1008h5v1h-5zM488 1008h36v2h-36zM362 1009h31v1h-31zM411 1009h5v1h-5zM558 1006h5v5h-5zM465 1007h11v4h-11zM355 1008h6v3h-6zM420 1009h21v2h-21zM488 1010h13v1h-13zM362 1010h35v1h-35zM478 1009h5v3h-5zM453 1010h5v2h-5zM504 1010h20v2h-20zM459 1010h5v2h-5zM362 1011h5v1h-5zM468 1011h7v1h-7zM371 1011h10v1h-10zM420 1011h19v1h-19zM385 1011h15v1h-15zM442 1009h8v4h-8zM525 1010h5v3h-5zM488 1011h5v2h-5zM421 1012h10v1h-10zM453 1012h11v1h-11zM373 1012h27v1h-27zM504 1012h16v1h-16zM403 1009h5v5h-5zM355 1011h5v3h-5zM496 1011h5v3h-5zM420 1013h6v1h-6zM376 1013h24v1h-24zM445 1013h19v2h-19zM509 1013h5v2h-5zM378 1014h22v1h-22zM434 1012h5v4h-5zM445 1015h9v1h-9zM378 1015h27v1h-27zM474 1012h5v5h-5zM415 1014h11v3h-11zM457 1015h5v2h-5zM440 1016h14v1h-14zM378 1016h9v1h-9zM362 1013h5v5h-5zM523 1013h9v5h-9zM495 1015h5v3h-5zM390 1016h8v2h-8zM449 1017h5v1h-5zM465 1017h5v1h-5zM415 1017h15v1h-15zM400 1016h5v3h-5zM393 1018h5v1h-5zM440 1017h5v3h-5zM465 1018h7v2h-7zM354 1018h5v2h-5zM490 1018h10v2h-10zM393 1019h17v1h-17zM393 1020h9v1h-9zM439 1020h6v1h-6zM374 1017h5v5h-5zM425 1018h5v4h-5zM476 1020h9v2h-9zM464 1020h8v3h-8zM354 1020h8v3h-8zM439 1021h5v2h-5zM415 1018h5v6h-5zM384 1019h5v5h-5zM405 1020h5v4h-5zM397 1021h5v3h-5zM458 1020h5v5h-5zM447 1020h5v5h-5zM476 1022h12v3h-12zM464 1023h5v2h-5zM357 1023h5v2h-5zM500 1021h5v5h-5zM390 1021h5v5h-5zM439 1023h6v3h-6zM546 1022h5v5h-5zM482 1025h6v2h-6zM490 1020h5v8h-5zM426 1023h5v5h-5zM434 1026h11v2h-11zM401 1024h5v5h-5zM434 1028h10v3h-10zM356 1027h5v5h-5zM439 1031h5v1h-5zM498 1028h5v5h-5zM423 1032h5v2h-5zM405 1030h5v5h-5zM379 1027h5v9h-5zM423 1034h7v2h-7zM468 1032h5v5h-5zM460 1033h5v5h-5zM388 1034h5v5h-5zM421 1036h9v3h-9zM421 1039h5v2h-5zM378 1037h5v5h-5zM412 1034h5v9h-5zM528 1038h5v5h-5zM406 1038h5v5h-5zM366 1042h5v5h-5zM452 1042h5v5h-5zM538 1042h5v5h-5zM386 1044h5v5h-5zM372 1047h5v5h-5zM504 1048h5v5h-5zM518 1048h5v5h-5zM392 1051h5v3h-5zM383 1052h5v2h-5zM360 1051h5v4h-5zM392 1054h9v2h-9zM358 1055h7v1h-7zM383 1054h8v3h-8zM396 1056h5v3h-5zM358 1056h5v3h-5zM386 1057h5v2h-5zM355 1059h8v1h-8zM380 1057h5v5h-5zM552 1058h5v5h-5zM372 1059h5v4h-5zM366 1061h5v2h-5zM402 1059h5v5h-5zM355 1060h5v4h-5zM366 1063h11v1h-11zM496 1060h5v5h-5zM366 1064h7v2h-7zM439 1065h5v3h-5zM368 1066h5v2h-5zM392 1064h5v5h-5zM434 1068h10v2h-10zM506 1066h5v5h-5zM361 1067h5v5h-5zM434 1070h5v3h-5zM379 1070h5v5h-5zM336 1071h5v5h-5zM389 1072h5v5h-5zM406 1074h5v5h-5zM508 1078h5v5h-5zM542 1078h5v5h-5zM378 1081h5v5h-5zM427 1084h5v5h-5zM352 1084h5v5h-5zM389 1087h5v5h-5zM421 1087h5v5h-5zM468 1088h5v5h-5zM450 1094h5v5h-5zM372 1094h5v5h-5zM352 1096h5v5h-5zM323 1100h5v5h-5zM345 1100h5v5h-5zM378 1103h5v5h-5zM478 1108h5v5h-5zM381 1108h5v5h-5zM346 1111h5v5h-5zM434 1111h5v5h-5zM327 1111h9v5h-9zM345 1121h5v5h-5zM333 1143h5v5h-5zM376 1148h5v5h-5zM391 1148h5v5h-5zM356 1156h5v5h-5zM356 1168h5v5h-5zM381 1190h5v5h-5zM408 1192h5v5h-5zM366 1200h5v5h-5zM361 1221h5v5h-5zM422 1238h5v5h-5zM350 1244h5v5h-5zM429 1247h5v5h-5zM409 1250h5v5h-5zM445 1272h5v5h-5zM401 1274h5v3h-5z" fill="#e11b1e"/>
<rect x="401.2" y="851.1" width="8" height="8" fill="#33a02c" stroke="#000" stroke-width="2.2"/>
<rect x="429.1" y="862.0" width="8" height="8" fill="#33a02c" stroke="#000" stroke-width="2.2"/>
<rect x="464.3" y="871.0" width="8" height="8" fill="#33a02c" stroke="#000" stroke-width="2.2"/>
<rect x="492.1" y="871.0" width="8" height="8" fill="#33a02c" stroke="#000" stroke-width="2.2"/>
<rect x="699.7" y="981.6" width="8" height="8" fill="#e11b1e" stroke="#000" stroke-width="2.2"/>
<rect x="526.7" y="1013.4" width="8" height="8" fill="#e11b1e" stroke="#000" stroke-width="2.2"/>
<rect x="558.0" y="1066.0" width="8" height="8" fill="#e11b1e" stroke="#000" stroke-width="2.2"/>
<rect x="583.2" y="1060.8" width="8" height="8" fill="#e11b1e" stroke="#000" stroke-width="2.2"/>
<path d="M116.8 609.4V1278.4H813" fill="none" stroke="#000" stroke-width="2.6"/>
<line x1="110.6" y1="642.5" x2="114.2" y2="642.5" stroke="#000" stroke-width="3"/>
<text x="50.5" y="651.1" font-size="25" textLength="48.7" lengthAdjust="spacingAndGlyphs">10.0</text>
<line x1="110.6" y1="718.0" x2="114.2" y2="718.0" stroke="#000" stroke-width="3"/>
<text x="64.5" y="726.6" font-size="25" textLength="34.8" lengthAdjust="spacingAndGlyphs">7.5</text>
<line x1="110.6" y1="793.5" x2="114.2" y2="793.5" stroke="#000" stroke-width="3"/>
<text x="64.3" y="802.1" font-size="25" textLength="34.8" lengthAdjust="spacingAndGlyphs">5.0</text>
<line x1="110.6" y1="869.0" x2="114.2" y2="869.0" stroke="#000" stroke-width="3"/>
<text x="64.5" y="877.6" font-size="25" textLength="34.8" lengthAdjust="spacingAndGlyphs">2.5</text>
<line x1="110.6" y1="944.5" x2="114.2" y2="944.5" stroke="#000" stroke-width="3"/>
<text x="70.6" y="953.1" font-size="25" textLength="28.5" lengthAdjust="spacingAndGlyphs">−0</text>
<line x1="110.6" y1="1020.0" x2="114.2" y2="1020.0" stroke="#000" stroke-width="3"/>
<text x="49.8" y="1028.6" font-size="25" textLength="49.4" lengthAdjust="spacingAndGlyphs">−2.5</text>
<line x1="110.6" y1="1095.5" x2="114.2" y2="1095.5" stroke="#000" stroke-width="3"/>
<text x="49.7" y="1104.1" font-size="25" textLength="49.4" lengthAdjust="spacingAndGlyphs">−5.0</text>
<line x1="110.6" y1="1171.0" x2="114.2" y2="1171.0" stroke="#000" stroke-width="3"/>
<text x="49.8" y="1179.6" font-size="25" textLength="49.4" lengthAdjust="spacingAndGlyphs">−7.5</text>
<line x1="110.6" y1="1246.5" x2="114.2" y2="1246.5" stroke="#000" stroke-width="3"/>
<text x="35.8" y="1255.1" font-size="25" textLength="63.3" lengthAdjust="spacingAndGlyphs">−10.0</text>
<line x1="127.5" y1="1278.4" x2="127.5" y2="1283.0" stroke="#000" stroke-width="2.2"/>
<line x1="245.6" y1="1278.4" x2="245.6" y2="1283.0" stroke="#000" stroke-width="2.2"/>
<line x1="380.2" y1="1278.4" x2="380.2" y2="1283.0" stroke="#000" stroke-width="2.2"/>
<line x1="515.3" y1="1278.4" x2="515.3" y2="1283.0" stroke="#000" stroke-width="2.2"/>
<line x1="649.7" y1="1278.4" x2="649.7" y2="1283.0" stroke="#000" stroke-width="2.2"/>
<line x1="784.3" y1="1278.4" x2="784.3" y2="1283.0" stroke="#000" stroke-width="2.2"/>
<text x="105.9" y="1312.7" font-size="25.3" textLength="43.1" lengthAdjust="spacingAndGlyphs">−10</text>
<text x="231.6" y="1312.7" font-size="25.3" textLength="29.3" lengthAdjust="spacingAndGlyphs">−5</text>
<text x="373.3" y="1312.7" font-size="25.3" textLength="13.9" lengthAdjust="spacingAndGlyphs">0</text>
<text x="508.7" y="1312.7" font-size="25.3" textLength="15.0" lengthAdjust="spacingAndGlyphs">5</text>
<text x="634.8" y="1312.7" font-size="25.3" textLength="29.0" lengthAdjust="spacingAndGlyphs">10</text>
<text x="770.4" y="1312.7" font-size="25.3" textLength="28.7" lengthAdjust="spacingAndGlyphs">15</text>
<text x="206.4" y="1347.9" font-size="24.7" textLength="516.1" lengthAdjust="spacingAndGlyphs">Log2 expression average FPKM (Mut and WT)</text>
<g transform="translate(21.2,1143.0) rotate(-90)"><text x="-2.0" y="0.0" font-size="26" textLength="42.3" lengthAdjust="spacingAndGlyphs">Log</text><text x="39.7" y="8.8" font-size="16" textLength="8.9" lengthAdjust="spacingAndGlyphs">2</text><text x="56.0" y="0.0" font-size="26" textLength="342.5" lengthAdjust="spacingAndGlyphs">average fold change  Mut - WT</text></g>
<text x="132.0" y="633.7" font-size="24.5" textLength="178.1" lengthAdjust="spacingAndGlyphs">E6.5 Mut vs WT</text>
<line x1="399.9" y1="722.4" x2="608.0" y2="806.2" stroke="#000" stroke-width="2.6"/>
<line x1="534.0" y1="1142.6" x2="730.2" y2="1015.5" stroke="#000" stroke-width="2.6"/>
<line x1="381.0" y1="793.9" x2="399.7" y2="838.3" stroke="#000" stroke-width="2.6"/><path d="M401.8 843.4L391.8 835.1L398.9 836.5L402.9 830.5Z" fill="#000"/>
<line x1="438.8" y1="799.0" x2="434.9" y2="847.0" stroke="#000" stroke-width="2.6"/><path d="M434.4 852.5L429.4 840.5L435.0 845.0L441.3 841.5Z" fill="#000"/>
<line x1="471.8" y1="829.8" x2="469.2" y2="861.3" stroke="#000" stroke-width="2.6"/><path d="M468.7 866.8L463.7 854.8L469.3 859.3L475.6 855.8Z" fill="#000"/>
<line x1="549.4" y1="843.9" x2="505.2" y2="868.1" stroke="#000" stroke-width="2.6"/><path d="M500.4 870.7L507.6 859.9L507.0 867.1L513.4 870.4Z" fill="#000"/>
<line x1="662.8" y1="1003.6" x2="690.4" y2="989.2" stroke="#000" stroke-width="2.6"/><path d="M695.3 986.7L687.9 997.3L688.6 990.2L682.3 986.7Z" fill="#000"/>
<line x1="494.7" y1="1048.7" x2="520.5" y2="1026.8" stroke="#000" stroke-width="2.6"/><path d="M524.7 1023.2L519.8 1035.2L519.0 1028.1L512.1 1026.1Z" fill="#000"/>
<line x1="518.2" y1="1083.0" x2="545.5" y2="1073.2" stroke="#000" stroke-width="2.6"/><path d="M550.7 1071.4L541.9 1080.9L543.6 1073.9L537.9 1069.6Z" fill="#000"/>
<line x1="553.3" y1="1100.0" x2="574.1" y2="1079.2" stroke="#000" stroke-width="2.6"/><path d="M578.0 1075.3L574.1 1087.7L572.7 1080.6L565.6 1079.2Z" fill="#000"/>
<text x="338.6" y="787.4" font-size="22.5" textLength="66.5" lengthAdjust="spacingAndGlyphs" font-style="italic">Prl7a1</text>
<text x="420.7" y="793.9" font-size="22.5" textLength="64.6" lengthAdjust="spacingAndGlyphs" font-style="italic">Prl3d3</text>
<text x="447.1" y="823.8" font-size="22.5" textLength="64.9" lengthAdjust="spacingAndGlyphs" font-style="italic">Prl3d2</text>
<text x="526.6" y="840.8" font-size="22.5" textLength="65.9" lengthAdjust="spacingAndGlyphs" font-style="italic">Prl3d1</text>
<text x="619.1" y="1029.7" font-size="22.5" textLength="66.2" lengthAdjust="spacingAndGlyphs" font-style="italic">Prl8a2</text>
<text x="418.1" y="1062.2" font-size="22.5" textLength="65.5" lengthAdjust="spacingAndGlyphs" font-style="italic">Prl6a1</text>
<text x="440.5" y="1089.6" font-size="22.5" textLength="63.4" lengthAdjust="spacingAndGlyphs" font-style="italic">Timp3</text>
<text x="482.3" y="1122.7" font-size="22.5" textLength="65.1" lengthAdjust="spacingAndGlyphs" font-style="italic">Prl3c1</text>
<g transform="translate(482.1,741.7) rotate(21.5)"><text x="-1.9" y="0.0" font-size="23.5" textLength="72.7" lengthAdjust="spacingAndGlyphs">P-TGC</text></g>
<g transform="translate(579.0,1146.0) rotate(-32.7)"><text x="-1.9" y="0.0" font-size="24.5" textLength="153.5" lengthAdjust="spacingAndGlyphs">PDZ, maternal</text></g>
<g transform="translate(574.0,1187.5) rotate(-32.7)"><text x="-0.9" y="0.0" font-size="24.5" textLength="201.9" lengthAdjust="spacingAndGlyphs">decidualised stroma</text></g>
<g transform="translate(795.5,904.0) rotate(-90)"><text x="-1.1" y="0.0" font-size="23.5" textLength="132.3" lengthAdjust="spacingAndGlyphs" fill="#33a02c">2 fold up Mut</text></g>
<g transform="translate(797.6,1172.4) rotate(-90)"><text x="-1.1" y="0.0" font-size="23.5" textLength="161.7" lengthAdjust="spacingAndGlyphs" fill="#e11b1e">2 fold down Mut</text></g>
<path d="M979.2 692.5V1050.5" stroke="#000" stroke-width="3.6" fill="none"/>
<line x1="979.5" y1="827.4" x2="1462.0" y2="827.4" stroke="#000" stroke-width="2.6"/>
<line x1="972.3" y1="693.3" x2="979.5" y2="693.3" stroke="#000" stroke-width="2.2"/>
<text x="926.4" y="701.1" font-size="23.4" textLength="35.2" lengthAdjust="spacingAndGlyphs">0.3</text>
<line x1="972.3" y1="738.0" x2="979.5" y2="738.0" stroke="#000" stroke-width="2.2"/>
<text x="926.4" y="745.8" font-size="23.4" textLength="35.2" lengthAdjust="spacingAndGlyphs">0.2</text>
<line x1="972.3" y1="782.7" x2="979.5" y2="782.7" stroke="#000" stroke-width="2.2"/>
<text x="926.4" y="790.5" font-size="23.4" textLength="35.2" lengthAdjust="spacingAndGlyphs">0.1</text>
<line x1="972.3" y1="827.4" x2="979.5" y2="827.4" stroke="#000" stroke-width="2.2"/>
<text x="926.4" y="835.2" font-size="23.4" textLength="35.2" lengthAdjust="spacingAndGlyphs">0.0</text>
<line x1="972.3" y1="872.1" x2="979.5" y2="872.1" stroke="#000" stroke-width="2.2"/>
<text x="911.6" y="879.9" font-size="23.4" textLength="50.0" lengthAdjust="spacingAndGlyphs">−0.1</text>
<line x1="972.3" y1="916.8" x2="979.5" y2="916.8" stroke="#000" stroke-width="2.2"/>
<text x="911.6" y="924.6" font-size="23.4" textLength="50.0" lengthAdjust="spacingAndGlyphs">−0.2</text>
<line x1="972.3" y1="961.5" x2="979.5" y2="961.5" stroke="#000" stroke-width="2.2"/>
<text x="911.6" y="969.3" font-size="23.4" textLength="50.0" lengthAdjust="spacingAndGlyphs">−0.3</text>
<line x1="972.3" y1="1006.2" x2="979.5" y2="1006.2" stroke="#000" stroke-width="2.2"/>
<text x="911.6" y="1014.0" font-size="23.4" textLength="50.0" lengthAdjust="spacingAndGlyphs">−0.4</text>
<line x1="972.3" y1="1050.9" x2="979.5" y2="1050.9" stroke="#000" stroke-width="2.2"/>
<text x="911.6" y="1058.7" font-size="23.4" textLength="50.0" lengthAdjust="spacingAndGlyphs">−0.5</text>
<line x1="1076.1" y1="827.4" x2="1076.1" y2="831.8" stroke="#000" stroke-width="1.8"/>
<line x1="1172.2" y1="827.4" x2="1172.2" y2="831.8" stroke="#000" stroke-width="1.8"/>
<line x1="1268.2" y1="827.4" x2="1268.2" y2="831.8" stroke="#000" stroke-width="1.8"/>
<line x1="1364.3" y1="827.4" x2="1364.3" y2="831.8" stroke="#000" stroke-width="1.8"/>
<line x1="1460.4" y1="827.4" x2="1460.4" y2="831.8" stroke="#000" stroke-width="1.8"/>
<text x="1050.6" y="857.6" font-size="19.5" textLength="50.6" lengthAdjust="spacingAndGlyphs">5000</text>
<text x="1140.1" y="857.6" font-size="19.5" textLength="67.1" lengthAdjust="spacingAndGlyphs">10,000</text>
<text x="1234.7" y="857.6" font-size="19.5" textLength="69.8" lengthAdjust="spacingAndGlyphs">15,000</text>
<text x="1329.9" y="857.6" font-size="19.5" textLength="70.5" lengthAdjust="spacingAndGlyphs">20,000</text>
<text x="1429.1" y="857.6" font-size="19.5" textLength="69.2" lengthAdjust="spacingAndGlyphs">25,000</text>
<g transform="translate(897.7,968.3) rotate(-90)"><text x="-2.0" y="0.0" font-size="27" textLength="196.1" lengthAdjust="spacingAndGlyphs">Enrichment score</text></g>
<path d="M981.1 838.9C981.1 835.0 980.6 822.3 981.1 815.3C981.6 808.3 983.0 803.0 984.0 796.9C985.0 790.8 985.9 783.8 987.0 778.5C988.1 773.2 989.2 768.7 990.6 765.2C992.0 761.8 993.4 760.6 995.1 757.8C996.8 755.0 999.0 750.4 1001.0 748.2C1003.0 746.0 1004.7 746.1 1006.9 744.6C1009.1 743.1 1011.8 740.1 1014.2 739.4C1016.7 738.6 1018.5 739.2 1021.6 740.1C1024.7 741.0 1029.6 743.5 1032.7 744.6C1035.8 745.7 1036.8 745.0 1040.0 746.8C1043.2 748.6 1047.4 752.4 1052.1 755.6C1056.8 758.9 1062.8 762.2 1068.1 766.3C1073.4 770.4 1078.8 775.8 1084.1 780.2C1089.4 784.7 1094.8 788.4 1100.2 793.0C1105.6 797.6 1110.5 802.3 1116.2 808.0C1121.9 813.7 1129.1 821.2 1134.4 827.2C1139.8 833.2 1144.2 839.5 1148.3 844.3C1152.4 849.1 1154.2 850.9 1159.0 856.0C1163.8 861.1 1171.5 868.8 1177.0 875.2C1182.5 881.6 1185.8 887.4 1191.7 894.3C1197.6 901.2 1205.2 908.8 1212.3 916.4C1219.4 924.0 1227.7 932.8 1234.3 939.9C1240.9 947.0 1243.6 950.6 1251.9 959.0C1260.2 967.4 1273.6 979.8 1284.2 990.2C1294.8 1000.6 1306.8 1013.7 1315.5 1021.5C1324.2 1029.3 1329.9 1032.9 1336.3 1037.1C1342.7 1041.3 1349.1 1044.6 1353.7 1046.6C1358.3 1048.6 1360.3 1049.0 1364.1 1049.2C1367.8 1049.4 1372.2 1049.5 1376.2 1047.5C1380.2 1045.5 1384.6 1041.7 1388.4 1037.1C1392.2 1032.5 1395.9 1026.1 1398.8 1019.7C1401.7 1013.3 1403.5 1009.0 1405.8 998.9C1408.1 988.8 1410.7 971.9 1412.7 958.9C1414.7 945.9 1416.5 935.2 1417.9 920.7C1419.4 906.2 1420.7 883.9 1421.4 872.1C1422.2 860.3 1422.2 853.7 1422.4 850.0" fill="none" stroke="#000" stroke-width="4.8" stroke-linejoin="round"/>
<path d="M982.2 798.4C982.4 793.9 983.2 778.7 983.6 771.1C984.0 763.5 984.0 758.2 984.7 752.7C985.4 747.2 986.7 742.0 987.7 737.9C988.7 733.8 989.4 731.4 990.6 728.3C991.8 725.2 993.2 722.8 995.1 719.5C997.0 716.2 999.5 711.1 1001.7 708.4C1003.9 705.7 1006.0 704.8 1008.3 703.3C1010.6 701.8 1012.9 699.9 1015.7 699.6C1018.5 699.4 1021.9 700.8 1025.3 701.8C1028.7 702.8 1031.7 703.6 1036.2 705.8C1040.7 708.0 1046.8 711.9 1052.1 715.0C1057.4 718.1 1062.8 721.1 1068.1 724.6C1073.4 728.1 1078.8 732.2 1084.1 736.3C1089.4 740.4 1094.8 744.7 1100.2 749.2C1105.6 753.7 1110.9 758.1 1116.2 763.1C1121.5 768.1 1126.9 773.6 1132.2 779.1C1137.5 784.6 1143.0 790.2 1148.3 796.2C1153.6 802.2 1159.5 809.7 1164.3 815.4C1169.1 821.1 1172.5 825.1 1177.1 830.4C1181.7 835.7 1186.3 841.3 1191.7 847.3C1197.1 853.3 1203.4 860.0 1209.3 866.4C1215.2 872.8 1221.6 879.6 1227.0 885.5C1232.4 891.4 1236.0 896.0 1241.7 901.7C1247.4 907.5 1253.7 913.1 1261.0 920.0C1268.3 926.9 1276.6 934.0 1285.7 942.8C1294.8 951.6 1307.1 965.2 1315.5 972.8C1323.9 980.4 1329.9 984.1 1336.3 988.5C1342.7 992.9 1349.3 996.7 1353.7 998.9C1358.1 1001.1 1358.7 1001.2 1362.4 1001.5C1366.2 1001.8 1371.9 1002.2 1376.2 1000.6C1380.5 999.0 1384.6 996.0 1388.4 991.9C1392.2 987.8 1395.9 981.8 1398.8 976.3C1401.7 970.8 1403.5 966.1 1405.8 958.9C1408.1 951.7 1410.7 944.5 1412.7 932.9C1414.7 921.3 1416.6 902.5 1417.9 889.5C1419.2 876.5 1419.9 866.3 1420.5 854.7C1421.1 843.1 1421.4 829.0 1421.7 820.0C1422.0 811.0 1422.3 803.8 1422.4 800.5" fill="none" stroke="#0a84ff" stroke-width="4.8" stroke-linejoin="round" stroke-linecap="round"/>
<text x="1258.0" y="908.7" font-size="24" textLength="49.0" lengthAdjust="spacingAndGlyphs" fill="#0a84ff">Esr1</text>
<text x="1185.3" y="950.9" font-size="24" textLength="34.8" lengthAdjust="spacingAndGlyphs">PR</text>
<text x="1349.4" y="1029.3" font-size="25.142857142857018" textLength="22.7" lengthAdjust="spacingAndGlyphs">**</text>
<text x="1340.8" y="1080.5" font-size="25.142857142857018" textLength="37.1" lengthAdjust="spacingAndGlyphs">***</text>
<defs><linearGradient id="gd" x1="0" x2="1" y1="0" y2="0"><stop offset="0" stop-color="#2bba14"/><stop offset="0.5" stop-color="#957018"/><stop offset="1" stop-color="#ff0a2a"/></linearGradient></defs>
<rect x="979" y="1074.8" width="444" height="22" fill="url(#gd)"/>
<text x="940.1" y="1092.1" font-size="22.5" textLength="32.3" lengthAdjust="spacingAndGlyphs">Up</text>
<text x="1427.9" y="1092.1" font-size="22.5" textLength="64.2" lengthAdjust="spacingAndGlyphs">Down</text>
<text x="1016.3" y="1128.8" font-size="23.5" textLength="367.4" lengthAdjust="spacingAndGlyphs">Ranked gene expression change</text>
<text x="1050.3" y="1156.5" font-size="23.5" textLength="305.0" lengthAdjust="spacingAndGlyphs">(DESeq2 FDR) E6.5 vs WT</text>
<line x1="118.0" y1="1750.3" x2="802.0" y2="1750.3" stroke="#a0a0a0" stroke-width="1.4"/>
<path d="M382 1432h5v5h-5zM374 1438h5v5h-5zM356 1478h5v5h-5zM412 1502h5v5h-5zM364 1512h5v5h-5zM340 1518h5v5h-5zM498 1558h5v5h-5zM308 1558h5v5h-5zM372 1562h5v5h-5zM468 1572h5v5h-5zM458 1588h5v5h-5zM278 1598h5v5h-5zM352 1604h5v5h-5zM426 1605h5v5h-5zM394 1608h5v3h-5zM382 1609h5v3h-5zM389 1611h10v1h-10zM266 1608h5v5h-5zM448 1608h5v5h-5zM389 1612h11v1h-11zM382 1612h6v2h-6zM389 1613h5v1h-5zM417 1614h5v1h-5zM348 1612h5v4h-5zM383 1614h11v2h-11zM395 1613h5v4h-5zM348 1616h6v1h-6zM383 1616h6v1h-6zM330 1614h5v5h-5zM412 1615h10v4h-10zM384 1617h5v2h-5zM374 1616h5v4h-5zM412 1619h5v1h-5zM349 1617h5v4h-5zM372 1620h7v1h-7zM355 1617h5v5h-5zM420 1619h5v3h-5zM390 1620h5v3h-5zM415 1622h10v2h-10zM407 1620h5v5h-5zM372 1621h5v4h-5zM319 1621h6v5h-6zM441 1621h5v5h-5zM341 1621h5v5h-5zM415 1624h6v3h-6zM385 1623h10v5h-10zM348 1624h5v5h-5zM416 1627h5v2h-5zM368 1625h5v5h-5zM390 1628h5v2h-5zM322 1626h5v5h-5zM357 1626h5v5h-5zM289 1630h5v1h-5zM386 1630h5v1h-5zM446 1627h5v5h-5zM465 1627h5v5h-5zM386 1631h6v1h-6zM309 1630h5v3h-5zM394 1630h5v5h-5zM289 1631h7v4h-7zM384 1632h8v3h-8zM305 1633h9v2h-9zM359 1634h5v1h-5zM331 1634h5v1h-5zM439 1629h5v7h-5zM405 1631h7v5h-7zM357 1635h7v1h-7zM291 1635h5v1h-5zM430 1632h5v5h-5zM380 1635h12v2h-12zM305 1635h5v2h-5zM406 1636h6v1h-6zM486 1633h5v5h-5zM424 1637h5v1h-5zM387 1637h5v1h-5zM304 1637h6v1h-6zM331 1635h6v4h-6zM357 1636h9v4h-9zM380 1637h5v3h-5zM443 1638h5v2h-5zM341 1636h9v5h-9zM406 1637h5v4h-5zM424 1638h9v3h-9zM319 1640h5v1h-5zM361 1640h5v1h-5zM370 1637h6v5h-6zM304 1638h5v4h-5zM332 1639h5v3h-5zM412 1637h5v6h-5zM228 1638h5v5h-5zM387 1638h7v5h-7zM439 1640h9v3h-9zM493 1639h5v5h-5zM459 1639h5v5h-5zM351 1641h5v3h-5zM387 1643h5v1h-5zM398 1640h5v5h-5zM314 1641h10v4h-10zM325 1641h5v4h-5zM439 1643h5v2h-5zM410 1643h5v2h-5zM424 1641h10v5h-10zM404 1641h5v5h-5zM351 1644h6v2h-6zM410 1645h6v1h-6zM314 1645h6v1h-6zM321 1645h9v1h-9zM379 1642h5v5h-5zM298 1643h5v4h-5zM468 1643h5v4h-5zM418 1644h5v3h-5zM321 1646h5v1h-5zM409 1646h7v1h-7zM424 1646h5v1h-5zM362 1645h5v3h-5zM442 1646h5v2h-5zM392 1647h5v1h-5zM404 1647h12v1h-12zM418 1647h8v1h-8zM296 1647h7v1h-7zM352 1646h5v3h-5zM314 1647h5v2h-5zM321 1647h10v2h-10zM404 1648h22v1h-22zM497 1645h5v5h-5zM362 1648h8v2h-8zM392 1648h7v2h-7zM285 1648h5v2h-5zM440 1648h9v2h-9zM404 1649h14v1h-14zM321 1649h18v1h-18zM421 1649h13v1h-13zM452 1649h5v1h-5zM341 1646h5v5h-5zM382 1647h5v4h-5zM404 1650h30v1h-30zM376 1650h5v1h-5zM362 1650h12v1h-12zM468 1647h10v5h-10zM278 1647h5v5h-5zM296 1648h5v4h-5zM312 1649h7v3h-7zM392 1650h8v2h-8zM440 1650h17v2h-17zM326 1650h13v2h-13zM365 1651h9v1h-9zM404 1651h7v1h-7zM413 1651h21v1h-21zM376 1651h11v1h-11zM267 1648h5v5h-5zM304 1648h5v5h-5zM285 1650h9v3h-9zM500 1650h5v3h-5zM440 1652h18v1h-18zM413 1652h23v1h-23zM394 1652h6v1h-6zM468 1652h5v1h-5zM365 1652h10v1h-10zM310 1652h7v1h-7zM329 1652h10v1h-10zM343 1652h5v2h-5zM329 1653h12v1h-12zM304 1653h14v1h-14zM415 1653h24v1h-24zM406 1652h5v3h-5zM376 1652h8v3h-8zM448 1653h10v2h-10zM369 1653h6v2h-6zM289 1653h9v2h-9zM395 1653h5v2h-5zM500 1653h6v2h-6zM463 1654h5v1h-5zM415 1654h7v1h-7zM306 1654h12v1h-12zM442 1653h5v3h-5zM327 1654h8v2h-8zM301 1655h17v1h-17zM394 1655h5v1h-5zM291 1655h7v1h-7zM357 1655h5v1h-5zM415 1655h5v1h-5zM379 1655h5v1h-5zM485 1652h5v5h-5zM343 1654h7v3h-7zM431 1654h8v3h-8zM453 1655h5v2h-5zM367 1655h8v2h-8zM474 1656h6v1h-6zM291 1656h27v1h-27zM336 1654h5v4h-5zM501 1655h5v3h-5zM394 1656h9v2h-9zM442 1656h7v2h-7zM357 1656h6v2h-6zM454 1657h5v1h-5zM345 1657h5v1h-5zM313 1657h5v1h-5zM367 1657h10v1h-10zM291 1657h20v1h-20zM434 1657h5v1h-5zM264 1654h5v5h-5zM461 1655h7v4h-7zM324 1656h8v3h-8zM343 1658h7v1h-7zM335 1658h5v1h-5zM279 1652h5v8h-5zM357 1658h20v2h-20zM291 1658h15v2h-15zM394 1658h11v2h-11zM461 1659h5v1h-5zM312 1659h5v1h-5zM520 1656h5v5h-5zM285 1657h5v4h-5zM424 1657h5v4h-5zM474 1657h7v4h-7zM453 1658h6v3h-6zM444 1658h7v3h-7zM324 1659h31v2h-31zM358 1660h19v1h-19zM291 1660h17v1h-17zM398 1660h7v1h-7zM309 1660h8v1h-8zM431 1658h8v4h-8zM284 1661h6v1h-6zM363 1661h17v1h-17zM446 1661h18v1h-18zM422 1661h7v1h-7zM475 1661h6v1h-6zM399 1661h12v1h-12zM303 1661h52v1h-52zM291 1661h6v1h-6zM526 1658h5v5h-5zM263 1661h5v2h-5zM363 1662h10v1h-10zM422 1662h5v1h-5zM383 1662h5v1h-5zM284 1662h45v1h-45zM446 1662h12v1h-12zM331 1662h24v1h-24zM475 1662h5v2h-5zM349 1663h6v1h-6zM368 1663h5v1h-5zM383 1663h11v1h-11zM281 1663h55v1h-55zM449 1663h5v1h-5zM502 1660h5v5h-5zM375 1662h5v3h-5zM399 1662h17v3h-17zM250 1662h5v3h-5zM263 1663h10v2h-10zM357 1663h9v2h-9zM349 1664h5v1h-5zM382 1664h12v1h-12zM447 1664h7v1h-7zM278 1664h58v1h-58zM431 1662h5v4h-5zM419 1663h8v3h-8zM467 1664h13v2h-13zM263 1665h14v1h-14zM307 1665h18v1h-18zM382 1665h14v1h-14zM398 1665h20v1h-20zM349 1665h17v1h-17zM459 1662h5v5h-5zM339 1663h7v4h-7zM441 1664h5v3h-5zM248 1665h7v2h-7zM447 1665h9v2h-9zM294 1665h12v2h-12zM278 1665h14v2h-14zM327 1665h9v2h-9zM313 1666h12v1h-12zM347 1666h19v1h-19zM512 1664h5v4h-5zM370 1665h10v3h-10zM407 1666h11v2h-11zM467 1666h15v2h-15zM268 1666h9v2h-9zM382 1666h23v2h-23zM419 1666h7v2h-7zM306 1667h28v1h-28zM353 1667h13v1h-13zM278 1667h11v1h-11zM347 1667h5v1h-5zM338 1667h8v1h-8zM499 1667h5v1h-5zM294 1667h5v2h-5zM440 1667h16v2h-16zM368 1668h12v1h-12zM284 1668h5v1h-5zM382 1668h27v1h-27zM467 1668h16v1h-16zM410 1668h17v1h-17zM507 1668h10v1h-10zM248 1667h5v3h-5zM300 1667h5v3h-5zM353 1668h8v2h-8zM346 1668h6v2h-6zM272 1668h5v2h-5zM306 1668h26v2h-26zM451 1669h6v1h-6zM430 1669h19v1h-19zM384 1669h43v1h-43zM507 1669h5v1h-5zM366 1669h14v1h-14zM261 1666h5v5h-5zM495 1668h10v3h-10zM278 1668h5v3h-5zM470 1669h5v2h-5zM477 1669h6v2h-6zM384 1670h65v1h-65zM458 1667h7v5h-7zM300 1670h28v2h-28zM346 1670h29v2h-29zM379 1671h70v1h-70zM338 1668h5v5h-5zM506 1670h6v3h-6zM452 1670h5v3h-5zM330 1670h7v3h-7zM493 1671h12v2h-12zM478 1671h5v2h-5zM376 1672h10v1h-10zM297 1672h5v1h-5zM391 1672h59v1h-59zM524 1669h5v5h-5zM304 1672h5v2h-5zM311 1672h17v2h-17zM344 1672h31v2h-31zM376 1673h13v1h-13zM296 1673h6v1h-6zM287 1673h5v1h-5zM330 1673h13v1h-13zM391 1673h68v1h-68zM246 1670h10v5h-10zM542 1670h5v5h-5zM506 1673h5v2h-5zM493 1673h7v2h-7zM311 1674h27v1h-27zM391 1674h84v1h-84zM344 1674h45v1h-45zM282 1674h10v1h-10zM295 1674h14v2h-14zM344 1675h133v1h-133zM311 1675h31v1h-31zM493 1675h5v1h-5zM552 1672h5v5h-5zM502 1675h5v2h-5zM282 1675h12v2h-12zM343 1676h134v1h-134zM295 1676h47v1h-47zM478 1673h10v5h-10zM535 1676h5v2h-5zM392 1677h85v1h-85zM500 1677h7v1h-7zM492 1677h5v1h-5zM282 1677h109v1h-109zM257 1677h5v2h-5zM402 1678h52v1h-52zM551 1678h5v1h-5zM245 1678h7v1h-7zM535 1678h11v1h-11zM573 1678h5v2h-5zM481 1678h7v2h-7zM282 1678h119v2h-119zM457 1678h20v2h-20zM267 1679h5v1h-5zM402 1679h54v1h-54zM257 1679h9v1h-9zM275 1679h5v2h-5zM242 1679h10v2h-10zM573 1680h9v1h-9zM383 1680h92v1h-92zM482 1680h6v1h-6zM257 1680h15v1h-15zM234 1677h5v5h-5zM500 1678h9v4h-9zM492 1678h7v4h-7zM282 1680h21v2h-21zM304 1680h77v2h-77zM242 1681h38v1h-38zM383 1681h31v1h-31zM417 1681h58v1h-58zM551 1679h8v4h-8zM532 1679h14v4h-14zM568 1681h14v2h-14zM476 1681h12v2h-12zM417 1682h5v1h-5zM258 1682h22v1h-22zM294 1682h9v1h-9zM493 1682h8v1h-8zM242 1682h15v1h-15zM428 1682h47v1h-47zM304 1682h110v1h-110zM504 1682h5v1h-5zM282 1682h10v2h-10zM242 1683h6v1h-6zM532 1683h5v1h-5zM554 1683h5v1h-5zM252 1683h28v1h-28zM349 1683h20v1h-20zM428 1683h14v1h-14zM295 1683h53v1h-53zM371 1683h51v1h-51zM577 1683h5v2h-5zM522 1683h5v2h-5zM327 1684h21v1h-21zM252 1684h6v1h-6zM263 1684h16v1h-16zM295 1684h31v1h-31zM282 1684h9v1h-9zM583 1682h5v4h-5zM568 1683h5v3h-5zM490 1683h12v3h-12zM443 1683h45v3h-45zM505 1683h5v3h-5zM243 1684h5v2h-5zM534 1684h5v2h-5zM352 1684h90v2h-90zM252 1685h80v1h-80zM334 1685h12v1h-12zM549 1685h5v1h-5zM489 1686h13v1h-13zM505 1686h7v1h-7zM251 1686h76v1h-76zM448 1686h40v1h-40zM336 1686h109v1h-109zM583 1686h7v1h-7zM244 1686h5v1h-5zM514 1683h5v5h-5zM522 1685h7v3h-7zM555 1686h5v2h-5zM547 1686h7v2h-7zM238 1686h5v2h-5zM244 1687h52v1h-52zM297 1687h30v1h-30zM333 1687h125v1h-125zM534 1686h8v3h-8zM489 1687h23v2h-23zM462 1687h26v2h-26zM238 1688h58v1h-58zM519 1688h11v1h-11zM317 1688h141v1h-141zM297 1688h17v1h-17zM543 1688h11v1h-11zM555 1688h6v2h-6zM565 1688h5v2h-5zM519 1689h13v1h-13zM489 1689h25v1h-25zM462 1689h23v1h-23zM315 1689h144v1h-144zM537 1689h17v1h-17zM298 1689h12v1h-12zM585 1687h5v4h-5zM234 1689h62v2h-62zM562 1690h8v1h-8zM537 1690h24v1h-24zM519 1690h14v1h-14zM298 1690h218v1h-218zM234 1691h61v1h-61zM556 1691h5v1h-5zM542 1691h13v1h-13zM298 1691h235v1h-235zM594 1688h5v5h-5zM202 1688h5v5h-5zM581 1692h5v1h-5zM268 1692h6v1h-6zM234 1692h32v1h-32zM276 1692h258v1h-258zM542 1692h19v1h-19zM234 1693h40v1h-40zM562 1691h12v4h-12zM217 1693h5v2h-5zM540 1693h20v2h-20zM581 1693h10v2h-10zM277 1693h259v2h-259zM251 1694h22v2h-22zM277 1695h277v1h-277zM555 1695h5v1h-5zM567 1695h7v1h-7zM580 1695h11v1h-11zM494 1696h66v1h-66zM567 1696h6v1h-6zM575 1696h16v1h-16zM280 1696h213v1h-213zM604 1694h6v4h-6zM235 1694h15v4h-15zM217 1695h7v3h-7zM251 1696h25v2h-25zM278 1697h281v1h-281zM225 1695h5v4h-5zM567 1697h18v2h-18zM586 1697h5v2h-5zM219 1698h5v1h-5zM604 1698h7v1h-7zM251 1698h272v1h-272zM530 1698h34v1h-34zM232 1698h18v1h-18zM266 1699h298v1h-298zM216 1699h49v1h-49zM566 1699h25v2h-25zM216 1700h27v1h-27zM244 1700h15v1h-15zM260 1700h304v1h-304zM244 1701h270v1h-270zM577 1701h14v1h-14zM515 1701h60v1h-60zM698 1698h5v5h-5zM592 1699h5v4h-5zM606 1699h5v4h-5zM246 1702h268v1h-268zM515 1702h29v1h-29zM548 1702h43v1h-43zM215 1701h26v3h-26zM610 1703h5v1h-5zM548 1703h49v1h-49zM246 1703h301v1h-301zM522 1704h25v1h-25zM246 1704h274v1h-274zM214 1704h27v1h-27zM549 1704h44v1h-44zM599 1702h5v4h-5zM617 1702h5v4h-5zM631 1704h5v2h-5zM609 1704h6v2h-6zM549 1705h46v1h-46zM214 1705h333v1h-333zM530 1706h74v1h-74zM609 1706h13v1h-13zM214 1706h315v2h-315zM530 1707h87v1h-87zM639 1704h5v5h-5zM628 1706h8v3h-8zM573 1708h44v1h-44zM214 1708h355v1h-355zM224 1709h345v1h-345zM218 1709h5v1h-5zM208 1709h7v1h-7zM573 1709h28v1h-28zM603 1709h6v1h-6zM610 1709h12v2h-12zM628 1709h5v2h-5zM573 1710h36v1h-36zM208 1710h362v1h-362zM560 1711h10v1h-10zM623 1711h11v1h-11zM596 1711h26v1h-26zM208 1711h349v1h-349zM596 1712h38v1h-38zM208 1712h362v1h-362zM647 1711h5v3h-5zM572 1711h22v3h-22zM595 1713h39v1h-39zM207 1713h363v1h-363zM207 1714h387v1h-387zM657 1712h5v4h-5zM641 1714h11v2h-11zM205 1715h386v1h-386zM595 1714h45v3h-45zM672 1715h5v2h-5zM664 1716h5v1h-5zM229 1716h364v1h-364zM203 1716h24v1h-24zM641 1716h12v2h-12zM199 1717h26v1h-26zM228 1717h412v1h-412zM226 1718h427v1h-427zM195 1718h27v1h-27zM656 1716h7v4h-7zM664 1717h13v3h-13zM195 1719h458v1h-458zM189 1720h474v1h-474zM664 1720h9v2h-9zM189 1721h27v1h-27zM718 1718h5v5h-5zM788 1718h5v5h-5zM217 1721h446v2h-446zM664 1722h8v1h-8zM189 1722h26v1h-26zM678 1720h5v4h-5zM189 1723h18v1h-18zM216 1723h447v1h-447zM664 1723h13v1h-13zM214 1724h463v1h-463zM212 1725h465v1h-465zM678 1724h9v3h-9zM210 1726h467v1h-467zM187 1724h20v4h-20zM208 1727h479v1h-479zM179 1728h5v1h-5zM187 1728h500v1h-500zM179 1729h472v1h-472zM657 1729h28v1h-28zM177 1730h477v1h-477zM655 1730h30v1h-30zM738 1728h5v5h-5zM200 1731h485v2h-485zM177 1731h21v3h-21zM668 1733h16v1h-16zM199 1733h468v1h-468zM680 1734h5v1h-5zM176 1734h497v1h-497zM185 1735h488v1h-488zM679 1735h6v1h-6zM176 1735h7v1h-7zM694 1735h5v1h-5zM687 1735h5v1h-5zM676 1736h9v1h-9zM189 1736h485v1h-485zM182 1736h6v1h-6zM176 1736h5v1h-5zM687 1736h12v2h-12zM182 1737h503v1h-503zM173 1737h8v1h-8zM171 1738h10v1h-10zM192 1738h507v1h-507zM182 1738h9v1h-9zM163 1739h6v1h-6zM171 1739h513v1h-513zM685 1739h14v1h-14zM758 1738h5v5h-5zM710 1740h5v3h-5zM732 1738h5v6h-5zM163 1740h535v4h-535zM705 1743h10v2h-10zM183 1744h518v1h-518zM759 1743h5v3h-5zM137 1744h5v2h-5zM732 1744h7v2h-7zM165 1744h16v2h-16zM182 1745h520v1h-520zM778 1742h5v5h-5zM766 1742h5v5h-5zM734 1746h5v1h-5zM705 1745h5v3h-5zM759 1746h6v2h-6zM137 1746h6v2h-6zM734 1747h9v2h-9zM137 1748h7v1h-7zM710 1748h5v1h-5zM146 1748h5v2h-5zM162 1746h540v5h-540zM793 1746h5v5h-5zM760 1748h5v3h-5zM138 1749h6v2h-6zM145 1750h6v1h-6zM145 1751h10v1h-10zM176 1751h526v1h-526zM709 1749h6v4h-6zM139 1751h5v2h-5zM163 1751h11v2h-11zM176 1752h502v1h-502zM145 1752h11v1h-11zM681 1752h21v1h-21zM722 1749h7v5h-7zM180 1753h521v1h-521zM709 1753h5v1h-5zM164 1753h14v1h-14zM142 1753h14v1h-14zM164 1754h506v1h-506zM671 1754h30v1h-30zM142 1754h17v1h-17zM191 1755h510v1h-510zM163 1755h26v1h-26zM150 1755h9v1h-9zM738 1749h5v8h-5zM163 1756h538v1h-538zM151 1756h8v1h-8zM702 1753h5v5h-5zM142 1755h5v3h-5zM744 1756h5v2h-5zM694 1757h6v1h-6zM661 1757h32v1h-32zM717 1756h5v3h-5zM163 1757h495v2h-495zM154 1757h5v2h-5zM661 1758h31v1h-31zM744 1758h7v1h-7zM777 1755h5v5h-5zM695 1758h9v2h-9zM163 1759h40v1h-40zM664 1759h28v1h-28zM204 1759h454v1h-454zM744 1759h9v2h-9zM713 1759h9v2h-9zM681 1760h11v1h-11zM206 1760h474v1h-474zM166 1760h36v2h-36zM206 1761h466v1h-466zM673 1761h17v1h-17zM697 1760h7v3h-7zM212 1762h460v1h-460zM166 1762h45v1h-45zM679 1762h7v1h-7zM745 1761h8v3h-8zM713 1761h5v3h-5zM166 1763h40v1h-40zM214 1763h462v1h-462zM679 1763h10v1h-10zM160 1760h5v5h-5zM207 1763h5v2h-5zM745 1764h5v1h-5zM217 1764h472v1h-472zM167 1764h39v2h-39zM219 1765h406v1h-406zM690 1764h5v3h-5zM628 1765h61v2h-61zM207 1765h8v2h-8zM176 1766h30v1h-30zM218 1766h406v1h-406zM167 1766h5v1h-5zM683 1767h6v1h-6zM630 1767h16v1h-16zM647 1767h34v1h-34zM176 1767h452v1h-452zM690 1767h6v2h-6zM646 1768h26v1h-26zM675 1768h6v1h-6zM683 1768h5v1h-5zM614 1768h15v1h-15zM630 1768h5v1h-5zM181 1768h432v1h-432zM636 1768h9v1h-9zM181 1769h425v1h-425zM608 1769h64v1h-64zM195 1770h410v1h-410zM181 1770h10v1h-10zM608 1770h53v1h-53zM691 1769h5v3h-5zM186 1771h5v1h-5zM198 1771h408v1h-408zM608 1771h49v1h-49zM758 1768h5v5h-5zM768 1768h5v5h-5zM199 1772h33v1h-33zM233 1772h407v1h-407zM643 1772h14v1h-14zM169 1769h5v5h-5zM186 1772h10v2h-10zM643 1773h13v1h-13zM199 1773h388v1h-388zM590 1773h50v2h-50zM186 1774h28v1h-28zM220 1774h18v1h-18zM581 1774h6v1h-6zM241 1774h339v1h-339zM642 1774h12v2h-12zM216 1775h354v1h-354zM201 1775h13v1h-13zM186 1775h13v2h-13zM638 1776h16v1h-16zM243 1776h323v1h-323zM203 1776h11v1h-11zM180 1773h5v5h-5zM582 1775h49v3h-49zM568 1776h12v2h-12zM186 1777h5v1h-5zM249 1777h317v1h-317zM638 1777h14v1h-14zM699 1774h5v5h-5zM216 1776h26v3h-26zM205 1777h10v2h-10zM243 1777h5v2h-5zM194 1777h5v2h-5zM567 1778h64v1h-64zM638 1778h9v1h-9zM545 1778h21v1h-21zM250 1778h292v1h-292zM216 1779h325v1h-325zM545 1779h86v1h-86zM210 1779h5v1h-5zM632 1776h5v5h-5zM638 1779h5v2h-5zM545 1780h9v1h-9zM210 1780h331v1h-331zM623 1780h8v1h-8zM198 1780h5v1h-5zM556 1780h44v1h-44zM602 1780h20v1h-20zM210 1781h16v1h-16zM528 1781h15v1h-15zM228 1781h296v1h-296zM544 1781h56v1h-56zM602 1781h22v2h-22zM212 1782h308v1h-308zM523 1782h70v1h-70zM523 1783h66v1h-66zM617 1783h7v1h-7zM212 1783h309v1h-309zM604 1783h11v1h-11zM187 1780h6v5h-6zM197 1781h6v4h-6zM643 1781h5v4h-5zM650 1782h5v3h-5zM591 1783h5v2h-5zM604 1784h8v1h-8zM515 1784h35v1h-35zM212 1784h302v1h-302zM617 1784h9v1h-9zM678 1781h5v5h-5zM551 1784h38v2h-38zM607 1785h5v1h-5zM619 1785h7v1h-7zM263 1785h241v1h-241zM509 1785h40v1h-40zM643 1785h12v1h-12zM212 1785h48v1h-48zM197 1785h5v1h-5zM505 1786h42v1h-42zM605 1786h7v1h-7zM647 1786h8v1h-8zM212 1786h13v1h-13zM226 1786h34v1h-34zM263 1786h6v1h-6zM621 1786h5v1h-5zM271 1786h229v1h-229zM584 1786h5v1h-5zM591 1785h8v3h-8zM550 1786h33v2h-33zM502 1787h45v1h-45zM231 1787h30v1h-30zM263 1787h237v1h-237zM213 1787h12v2h-12zM645 1787h10v2h-10zM619 1787h7v2h-7zM238 1788h251v1h-251zM491 1788h57v2h-57zM594 1788h5v2h-5zM573 1788h10v2h-10zM231 1788h5v2h-5zM549 1788h22v2h-22zM273 1789h216v1h-216zM645 1789h7v1h-7zM239 1789h33v1h-33zM605 1787h5v4h-5zM213 1789h8v2h-8zM575 1790h7v1h-7zM282 1790h207v1h-207zM239 1790h41v1h-41zM549 1790h13v1h-13zM491 1790h42v1h-42zM537 1790h11v1h-11zM595 1790h5v1h-5zM196 1787h7v5h-7zM585 1787h5v5h-5zM618 1789h6v3h-6zM566 1790h5v2h-5zM245 1791h29v1h-29zM538 1791h10v1h-10zM484 1791h49v1h-49zM278 1791h5v1h-5zM549 1791h16v1h-16zM284 1791h199v1h-199zM214 1791h7v1h-7zM698 1788h5v5h-5zM645 1790h5v3h-5zM595 1791h8v2h-8zM287 1792h196v1h-196zM521 1792h12v1h-12zM489 1792h31v1h-31zM557 1792h8v1h-8zM538 1792h16v1h-16zM245 1792h40v1h-40zM575 1791h5v3h-5zM618 1792h5v2h-5zM213 1792h11v2h-11zM521 1793h5v1h-5zM289 1793h231v1h-231zM245 1793h5v1h-5zM254 1793h34v1h-34zM634 1790h5v5h-5zM226 1790h5v5h-5zM256 1794h12v1h-12zM517 1794h9v1h-9zM508 1794h8v1h-8zM269 1794h237v1h-237zM659 1791h5v5h-5zM528 1793h5v3h-5zM560 1793h5v3h-5zM540 1793h12v3h-12zM593 1793h10v3h-10zM573 1795h5v1h-5zM273 1795h234v1h-234zM219 1794h5v3h-5zM257 1795h14v2h-14zM539 1796h13v1h-13zM273 1796h178v1h-178zM593 1796h5v1h-5zM455 1796h52v1h-52zM604 1793h5v5h-5zM593 1797h9v1h-9zM539 1797h6v1h-6zM257 1797h250v1h-250zM208 1794h10v5h-10zM511 1795h11v4h-11zM523 1797h5v2h-5zM297 1798h8v1h-8zM257 1798h39v1h-39zM306 1798h201v1h-201zM597 1798h5v1h-5zM568 1796h10v4h-10zM561 1796h5v4h-5zM539 1798h8v2h-8zM523 1799h8v1h-8zM261 1799h35v1h-35zM210 1799h8v1h-8zM299 1799h6v1h-6zM308 1799h199v1h-199zM515 1799h5v1h-5zM225 1798h7v3h-7zM581 1799h8v2h-8zM417 1800h85v1h-85zM523 1800h24v1h-24zM213 1800h5v1h-5zM269 1800h36v1h-36zM308 1800h12v1h-12zM322 1800h91v1h-91zM568 1800h5v1h-5zM261 1800h5v1h-5zM556 1800h10v1h-10zM244 1797h8v5h-8zM596 1799h6v3h-6zM581 1801h11v1h-11zM334 1801h68v1h-68zM417 1801h84v1h-84zM307 1801h23v1h-23zM269 1801h35v1h-35zM407 1801h9v1h-9zM718 1798h5v5h-5zM609 1798h5v5h-5zM222 1801h10v2h-10zM523 1801h16v2h-16zM542 1801h5v2h-5zM385 1802h11v1h-11zM349 1802h5v1h-5zM374 1802h9v1h-9zM282 1802h45v1h-45zM432 1802h65v1h-65zM355 1802h17v1h-17zM403 1802h27v1h-27zM397 1802h5v1h-5zM334 1802h11v1h-11zM255 1799h5v5h-5zM261 1801h6v3h-6zM556 1801h5v3h-5zM566 1801h5v3h-5zM596 1802h5v2h-5zM581 1802h12v2h-12zM246 1802h5v2h-5zM466 1803h31v1h-31zM397 1803h34v1h-34zM331 1803h14v1h-14zM432 1803h32v1h-32zM349 1803h47v1h-47zM315 1803h12v1h-12zM294 1803h19v1h-19zM523 1803h18v1h-18zM282 1803h10v1h-10zM550 1803h5v1h-5zM642 1800h5v5h-5zM269 1802h11v3h-11zM523 1804h5v1h-5zM327 1804h21v1h-21zM531 1804h10v1h-10zM485 1804h7v1h-7zM432 1804h26v1h-26zM262 1804h5v1h-5zM282 1804h30v1h-30zM315 1804h9v1h-9zM466 1804h14v1h-14zM349 1804h82v1h-82zM550 1804h11v1h-11zM222 1803h5v3h-5zM566 1804h9v2h-9zM587 1804h6v2h-6zM466 1805h7v1h-7zM409 1805h36v1h-36zM475 1805h9v1h-9zM518 1805h10v1h-10zM486 1805h6v1h-6zM353 1805h55v1h-55zM262 1805h86v1h-86zM627 1802h5v5h-5zM533 1805h8v2h-8zM446 1805h11v2h-11zM588 1806h5v1h-5zM570 1806h5v1h-5zM278 1806h167v1h-167zM486 1806h9v1h-9zM267 1806h10v1h-10zM504 1803h5v5h-5zM459 1804h5v4h-5zM257 1806h5v2h-5zM466 1806h5v2h-5zM278 1807h159v1h-159zM487 1807h8v1h-8zM536 1807h9v1h-9zM264 1807h13v1h-13zM243 1804h5v5h-5zM235 1804h5v5h-5zM548 1805h9v4h-9zM518 1806h5v3h-5zM438 1807h19v2h-19zM566 1807h9v2h-9zM463 1808h8v1h-8zM289 1808h93v1h-93zM487 1808h10v1h-10zM257 1808h15v1h-15zM402 1808h35v1h-35zM384 1808h17v1h-17zM510 1805h5v5h-5zM479 1806h5v4h-5zM249 1807h5v3h-5zM278 1808h6v2h-6zM540 1808h5v2h-5zM487 1809h15v1h-15zM257 1809h20v1h-20zM529 1809h5v1h-5zM548 1809h5v1h-5zM462 1809h9v1h-9zM516 1809h7v1h-7zM301 1809h135v2h-135zM234 1809h5v2h-5zM439 1809h18v2h-18zM291 1809h7v2h-7zM490 1810h12v1h-12zM272 1810h14v1h-14zM257 1810h12v1h-12zM606 1807h5v5h-5zM564 1809h7v3h-7zM529 1810h16v2h-16zM249 1810h6v2h-6zM473 1810h5v2h-5zM301 1811h107v1h-107zM413 1811h9v1h-9zM261 1811h8v1h-8zM558 1810h5v3h-5zM462 1810h6v3h-6zM624 1810h5v3h-5zM437 1811h14v2h-14zM427 1811h9v2h-9zM473 1812h10v1h-10zM303 1812h25v1h-25zM413 1812h12v1h-12zM261 1812h5v1h-5zM329 1812h35v1h-35zM222 1809h5v5h-5zM516 1810h5v4h-5zM288 1811h10v3h-10zM229 1811h10v3h-10zM272 1811h8v3h-8zM492 1811h10v3h-10zM564 1812h5v2h-5zM365 1812h42v2h-42zM250 1812h5v2h-5zM427 1813h7v1h-7zM329 1813h12v1h-12zM420 1813h5v1h-5zM549 1813h5v1h-5zM462 1813h5v1h-5zM308 1813h18v1h-18zM614 1806h5v9h-5zM281 1811h5v4h-5zM529 1812h13v3h-13zM555 1813h8v2h-8zM344 1813h20v2h-20zM444 1813h7v2h-7zM437 1813h5v2h-5zM473 1813h13v2h-13zM624 1813h9v2h-9zM419 1814h6v1h-6zM428 1814h6v1h-6zM275 1814h5v1h-5zM492 1814h12v1h-12zM287 1814h9v1h-9zM250 1814h6v1h-6zM311 1814h29v1h-29zM243 1811h5v5h-5zM229 1814h9v2h-9zM444 1815h8v1h-8zM306 1815h34v1h-34zM475 1815h11v1h-11zM419 1815h23v1h-23zM573 1812h5v5h-5zM369 1814h38v3h-38zM347 1815h15v2h-15zM474 1816h12v1h-12zM226 1816h5v1h-5zM314 1816h26v1h-26zM447 1816h5v1h-5zM419 1816h10v1h-10zM274 1816h5v1h-5zM233 1816h5v1h-5zM260 1813h5v5h-5zM408 1813h5v5h-5zM545 1814h9v4h-9zM555 1815h5v3h-5zM628 1815h5v3h-5zM369 1817h30v1h-30zM345 1817h17v1h-17zM318 1817h5v1h-5zM401 1817h5v1h-5zM481 1817h5v1h-5zM251 1815h5v4h-5zM493 1815h11v4h-11zM287 1815h11v4h-11zM306 1816h5v3h-5zM430 1816h11v3h-11zM474 1817h6v2h-6zM324 1817h16v2h-16zM519 1817h5v2h-5zM415 1817h14v2h-14zM369 1818h12v1h-12zM345 1818h5v1h-5zM351 1818h15v1h-15zM383 1818h24v1h-24zM545 1818h5v1h-5zM454 1816h5v4h-5zM447 1817h6v3h-6zM306 1819h7v1h-7zM345 1819h21v1h-21zM367 1819h14v1h-14zM487 1819h5v1h-5zM326 1819h11v1h-11zM430 1819h13v1h-13zM424 1819h5v1h-5zM493 1819h5v1h-5zM319 1819h5v1h-5zM271 1817h8v4h-8zM226 1817h10v4h-10zM568 1818h5v3h-5zM390 1819h17v2h-17zM474 1819h5v2h-5zM289 1819h9v2h-9zM425 1820h10v1h-10zM436 1820h7v1h-7zM482 1820h10v1h-10zM562 1820h5v1h-5zM374 1820h5v1h-5zM448 1820h5v1h-5zM454 1820h9v1h-9zM341 1820h25v1h-25zM252 1820h5v1h-5zM468 1817h5v5h-5zM533 1817h10v5h-10zM519 1819h8v3h-8zM410 1819h10v3h-10zM271 1821h5v1h-5zM231 1821h5v1h-5zM478 1821h14v1h-14zM448 1821h7v1h-7zM393 1821h14v1h-14zM502 1820h5v3h-5zM308 1820h6v3h-6zM331 1820h6v3h-6zM353 1821h13v2h-13zM431 1821h16v2h-16zM562 1821h11v2h-11zM289 1821h12v2h-12zM450 1822h5v1h-5zM393 1822h15v1h-15zM283 1822h5v1h-5zM367 1820h5v4h-5zM319 1820h10v4h-10zM341 1821h10v3h-10zM410 1822h9v2h-9zM473 1822h19v2h-19zM522 1822h5v2h-5zM294 1823h8v1h-8zM280 1823h8v1h-8zM332 1823h5v1h-5zM308 1823h10v1h-10zM353 1823h9v1h-9zM387 1823h13v1h-13zM238 1820h5v5h-5zM247 1821h10v4h-10zM421 1821h9v4h-9zM458 1821h5v4h-5zM269 1822h7v3h-7zM381 1823h5v2h-5zM502 1823h8v2h-8zM562 1823h10v2h-10zM387 1824h6v1h-6zM309 1824h9v1h-9zM395 1824h5v1h-5zM473 1824h14v1h-14zM320 1824h9v1h-9zM355 1824h5v1h-5zM332 1824h7v1h-7zM341 1824h7v1h-7zM280 1824h9v1h-9zM431 1823h24v3h-24zM414 1824h5v2h-5zM421 1825h7v1h-7zM473 1825h10v1h-10zM332 1825h16v1h-16zM355 1825h8v1h-8zM313 1825h5v1h-5zM263 1825h13v1h-13zM247 1825h6v1h-6zM567 1825h5v1h-5zM378 1825h22v1h-22zM403 1823h5v4h-5zM256 1825h5v2h-5zM280 1825h11v2h-11zM263 1826h11v1h-11zM435 1826h9v1h-9zM473 1826h5v1h-5zM445 1826h6v1h-6zM294 1824h13v4h-13zM505 1825h5v3h-5zM312 1826h6v2h-6zM378 1826h20v2h-20zM423 1826h7v2h-7zM334 1826h14v2h-14zM435 1827h16v1h-16zM370 1827h5v1h-5zM512 1824h5v5h-5zM521 1824h5v5h-5zM278 1827h13v2h-13zM334 1828h17v1h-17zM425 1828h5v1h-5zM358 1826h5v4h-5zM256 1827h19v3h-19zM393 1828h5v2h-5zM439 1828h11v2h-11zM378 1828h10v2h-10zM460 1828h5v2h-5zM294 1828h23v2h-23zM338 1829h5v1h-5zM553 1826h5v5h-5zM366 1828h9v3h-9zM250 1828h5v3h-5zM425 1829h6v2h-6zM410 1830h5v1h-5zM440 1830h10v1h-10zM296 1830h21v1h-21zM383 1830h5v1h-5zM561 1827h5v5h-5zM278 1829h14v3h-14zM260 1830h6v2h-6zM270 1830h5v2h-5zM307 1831h5v1h-5zM296 1831h5v1h-5zM379 1831h5v1h-5zM424 1831h7v1h-7zM440 1831h5v1h-5zM531 1828h5v5h-5zM346 1829h5v4h-5zM460 1830h8v3h-8zM393 1830h6v3h-6zM250 1831h9v2h-9zM364 1831h11v2h-11zM280 1832h12v1h-12zM307 1832h10v1h-10zM260 1832h5v1h-5zM301 1832h5v2h-5zM423 1832h8v2h-8zM260 1833h7v1h-7zM432 1833h5v1h-5zM254 1833h5v1h-5zM279 1833h6v1h-6zM287 1833h5v1h-5zM516 1829h5v6h-5zM501 1830h5v5h-5zM322 1830h5v5h-5zM410 1831h10v4h-10zM379 1832h10v3h-10zM312 1833h5v2h-5zM364 1833h5v2h-5zM370 1833h5v2h-5zM394 1833h5v2h-5zM343 1833h5v2h-5zM463 1833h5v2h-5zM252 1834h7v1h-7zM510 1834h5v1h-5zM446 1831h5v5h-5zM270 1833h5v3h-5zM482 1834h5v2h-5zM297 1834h9v2h-9zM288 1835h5v1h-5zM360 1835h9v1h-9zM374 1835h15v1h-15zM415 1835h5v1h-5zM252 1835h8v1h-8zM541 1832h5v5h-5zM262 1834h5v3h-5zM423 1834h7v3h-7zM432 1834h6v3h-6zM312 1835h11v2h-11zM251 1836h9v1h-9zM374 1836h5v1h-5zM288 1836h18v1h-18zM384 1836h5v1h-5zM233 1833h5v5h-5zM279 1834h5v4h-5zM340 1835h8v3h-8zM270 1836h7v2h-7zM425 1837h13v1h-13zM251 1837h16v1h-16zM391 1835h5v4h-5zM510 1835h10v4h-10zM482 1836h10v3h-10zM288 1837h21v2h-21zM340 1838h10v1h-10zM428 1838h10v1h-10zM462 1835h5v5h-5zM360 1836h5v4h-5zM316 1837h7v3h-7zM272 1838h5v2h-5zM251 1838h12v2h-12zM282 1839h15v1h-15zM391 1839h7v1h-7zM301 1839h8v1h-8zM337 1839h13v1h-13zM403 1836h5v5h-5zM330 1837h5v4h-5zM374 1837h13v4h-13zM265 1838h5v3h-5zM487 1839h7v2h-7zM282 1840h9v1h-9zM337 1840h18v1h-18zM258 1840h5v1h-5zM292 1840h5v1h-5zM271 1840h6v1h-6zM393 1840h5v1h-5zM251 1840h5v1h-5zM538 1837h5v5h-5zM471 1837h5v5h-5zM440 1837h5v5h-5zM428 1839h8v3h-8zM304 1840h5v2h-5zM258 1841h12v1h-12zM325 1841h10v1h-10zM337 1841h5v1h-5zM360 1841h5v1h-5zM377 1841h10v1h-10zM489 1841h5v1h-5zM345 1841h10v1h-10zM575 1838h5v5h-5zM515 1839h5v4h-5zM461 1840h5v3h-5zM524 1841h5v2h-5zM337 1842h18v1h-18zM261 1842h9v1h-9zM431 1842h5v1h-5zM389 1841h9v3h-9zM282 1841h10v3h-10zM489 1842h6v2h-6zM337 1843h11v1h-11zM271 1841h5v4h-5zM311 1843h5v2h-5zM458 1843h8v2h-8zM350 1843h5v2h-5zM287 1844h5v1h-5zM413 1841h10v5h-10zM360 1842h10v4h-10zM377 1842h9v4h-9zM325 1842h8v4h-8zM521 1843h8v3h-8zM261 1843h5v3h-5zM389 1844h5v2h-5zM340 1844h8v2h-8zM287 1845h9v1h-9zM497 1842h5v5h-5zM490 1844h5v3h-5zM417 1846h5v1h-5zM363 1846h7v1h-7zM507 1843h5v5h-5zM474 1843h5v5h-5zM306 1845h10v3h-10zM458 1845h5v3h-5zM337 1846h11v2h-11zM521 1846h5v2h-5zM337 1848h8v1h-8zM483 1845h5v5h-5zM288 1846h8v4h-8zM301 1848h14v2h-14zM354 1846h5v5h-5zM363 1847h5v4h-5zM404 1847h5v4h-5zM280 1848h5v3h-5zM335 1849h10v2h-10zM288 1850h5v1h-5zM372 1847h6v5h-6zM434 1847h5v5h-5zM325 1847h5v5h-5zM392 1847h5v5h-5zM310 1850h5v2h-5zM300 1850h6v2h-6zM404 1851h8v1h-8zM349 1851h5v1h-5zM335 1851h5v1h-5zM218 1848h5v5h-5zM267 1848h5v5h-5zM251 1848h5v5h-5zM385 1848h5v5h-5zM276 1851h9v2h-9zM295 1852h11v1h-11zM335 1852h10v2h-10zM260 1850h5v5h-5zM295 1853h10v2h-10zM340 1854h5v1h-5zM348 1852h6v4h-6zM407 1852h5v4h-5zM377 1853h5v3h-5zM295 1855h5v1h-5zM308 1852h5v5h-5zM276 1853h5v4h-5zM337 1855h8v2h-8zM294 1856h6v1h-6zM348 1856h5v1h-5zM362 1853h5v5h-5zM532 1853h5v5h-5zM371 1856h11v2h-11zM294 1857h5v1h-5zM416 1854h9v5h-9zM329 1854h5v5h-5zM438 1857h5v2h-5zM427 1855h5v5h-5zM337 1857h5v3h-5zM345 1859h5v1h-5zM290 1858h9v3h-9zM371 1858h6v3h-6zM438 1859h6v2h-6zM345 1860h9v1h-9zM397 1857h5v5h-5zM495 1858h5v5h-5zM371 1861h5v2h-5zM290 1861h5v2h-5zM507 1859h5v5h-5zM363 1859h5v5h-5zM342 1861h12v3h-12zM436 1861h8v3h-8zM455 1859h5v6h-5zM349 1864h5v1h-5zM342 1864h5v1h-5zM274 1861h5v5h-5zM436 1864h5v2h-5zM378 1862h5v5h-5zM451 1865h9v2h-9zM310 1863h9v5h-9zM286 1863h5v5h-5zM329 1864h5v5h-5zM258 1864h5v5h-5zM403 1864h5v5h-5zM393 1867h5v2h-5zM342 1865h6v5h-6zM353 1865h10v5h-10zM451 1867h5v3h-5zM480 1867h5v5h-5zM392 1869h6v3h-6zM445 1868h5v5h-5zM303 1871h5v2h-5zM496 1872h5v1h-5zM458 1869h5v5h-5zM392 1872h5v2h-5zM352 1870h5v5h-5zM429 1870h5v5h-5zM320 1870h5v5h-5zM303 1873h9v3h-9zM486 1872h5v5h-5zM404 1872h5v5h-5zM379 1872h5v5h-5zM492 1873h9v4h-9zM307 1876h5v1h-5zM368 1872h5v6h-5zM306 1877h6v1h-6zM492 1877h5v1h-5zM437 1874h5v5h-5zM468 1874h5v5h-5zM450 1874h5v5h-5zM390 1877h5v2h-5zM367 1878h6v1h-6zM331 1875h5v5h-5zM406 1878h5v2h-5zM323 1877h5v5h-5zM303 1878h8v4h-8zM390 1879h6v3h-6zM398 1880h13v2h-13zM332 1881h5v1h-5zM558 1878h5v5h-5zM248 1878h5v5h-5zM279 1878h5v5h-5zM367 1879h5v4h-5zM391 1882h20v1h-20zM303 1882h5v1h-5zM452 1879h5v5h-5zM391 1883h15v1h-15zM441 1883h5v2h-5zM396 1884h10v1h-10zM330 1882h7v4h-7zM396 1885h5v2h-5zM325 1886h10v1h-10zM296 1878h5v10h-5zM441 1885h7v3h-7zM497 1885h5v5h-5zM443 1888h5v2h-5zM296 1888h7v2h-7zM325 1887h5v4h-5zM436 1889h5v3h-5zM368 1888h5v5h-5zM298 1890h5v3h-5zM434 1892h7v2h-7zM359 1892h5v5h-5zM434 1894h12v3h-12zM436 1897h10v1h-10zM441 1898h5v1h-5zM314 1896h5v4h-5zM313 1900h6v1h-6zM414 1897h5v5h-5zM288 1898h5v5h-5zM598 1898h5v5h-5zM336 1898h5v5h-5zM538 1898h5v5h-5zM346 1901h5v2h-5zM313 1901h5v4h-5zM346 1903h6v3h-6zM406 1902h5v5h-5zM388 1903h5v5h-5zM347 1906h5v2h-5zM358 1905h5v5h-5zM232 1908h5v5h-5zM393 1909h5v5h-5zM386 1910h5v5h-5zM338 1910h5v5h-5zM330 1915h5v5h-5zM376 1917h5v5h-5zM518 1918h5v5h-5zM345 1920h5v5h-5zM608 1928h5v5h-5zM328 1928h5v5h-5zM389 1935h5v5h-5zM342 1952h5v5h-5zM458 1958h5v5h-5zM438 1978h5v5h-5zM368 1988h5v5h-5zM408 1998h5v5h-5zM392 2018h5v5h-5zM348 2038h5v5h-5zM418 2058h5v5h-5zM382 2062h5v5h-5zM368 2078h5v5h-5z" fill="#e0e0e0"/>
<path d="M301.1 1646.8h5v5h-5zM284.5 1655.2h5v5h-5zM337.3 1694.3h5v5h-5zM327.3 1707.1h5v5h-5zM262.3 1710.6h5v5h-5zM367.7 1690.1h5v5h-5zM370.5 1700.6h5v5h-5zM374.7 1702.9h5v5h-5zM372.9 1713.0h5v5h-5zM351.8 1718.8h5v5h-5zM356.5 1721.2h5v5h-5zM368.2 1718.8h5v5h-5zM412.6 1720.0h5v5h-5zM448.9 1718.8h5v5h-5zM439.0 1735.2h5v5h-5zM240.8 1739.4h5v5h-5zM270.5 1743.8h5v5h-5zM363.0 1744.5h5v5h-5zM394.6 1739.4h5v5h-5zM400.9 1738.7h5v5h-5zM420.8 1743.8h5v5h-5zM429.7 1743.8h5v5h-5zM451.2 1743.4h5v5h-5zM448.9 1746.9h5v5h-5zM213.4 1753.4h5v5h-5zM280.5 1753.4h5v5h-5zM287.1 1753.4h5v5h-5zM309.7 1753.4h5v5h-5zM323.8 1753.4h5v5h-5zM399.8 1753.4h5v5h-5zM420.8 1755.8h5v5h-5zM429.7 1755.1h5v5h-5zM437.9 1758.6h5v5h-5zM362.3 1766.1h5v5h-5zM271.9 1773.8h5v5h-5zM310.9 1814.0h5v5h-5zM448.9 1718.7h5v5h-5zM484.0 1721.2h5v5h-5zM484.5 1725.1h5v5h-5zM476.1 1725.5h5v5h-5zM498.4 1725.5h5v5h-5zM461.6 1728.9h5v5h-5zM476.9 1732.2h5v5h-5zM471.0 1735.2h5v5h-5zM462.9 1736.5h5v5h-5zM438.8 1735.2h5v5h-5zM556.8 1726.3h5v5h-5zM559.4 1733.9h5v5h-5zM603.0 1733.9h5v5h-5zM642.6 1738.5h5v5h-5zM613.9 1744.9h5v5h-5zM592.4 1750.5h5v5h-5zM448.9 1745.4h5v5h-5zM452.7 1742.8h5v5h-5zM466.7 1746.6h5v5h-5zM490.8 1737.7h5v5h-5zM495.9 1738.3h5v5h-5zM502.2 1739.8h5v5h-5zM507.3 1742.3h5v5h-5zM513.7 1744.9h5v5h-5zM520.0 1745.9h5v5h-5zM525.1 1744.1h5v5h-5zM528.9 1746.6h5v5h-5zM535.2 1745.9h5v5h-5zM541.6 1746.6h5v5h-5zM556.8 1747.9h5v5h-5zM561.4 1744.9h5v5h-5zM502.2 1750.5h5v5h-5zM490.8 1750.5h5v5h-5zM521.3 1754.2h5v5h-5zM438.8 1759.3h5v5h-5zM482.7 1761.9h5v5h-5zM526.4 1760.6h5v5h-5zM553.0 1759.8h5v5h-5zM562.7 1763.1h5v5h-5zM512.4 1769.5h5v5h-5zM546.2 1772.8h5v5h-5zM569.5 1770.8h5v5h-5zM476.9 1811.4h5v5h-5z" fill="#f89500"/>
<path d="M352.5 1506.8h5v5h-5zM430.6 1588.3h5v5h-5zM374.7 1682.6h5v5h-5zM391.6 1696.6h5v5h-5zM407.9 1694.3h5v5h-5zM405.6 1699.0h5v5h-5zM411.5 1685.4h5v5h-5zM437.9 1683.8h5v5h-5zM430.9 1706.0h5v5h-5zM437.9 1704.1h5v5h-5zM444.9 1714.9h5v5h-5zM502.2 1673.8h5v5h-5zM536.5 1685.7h5v5h-5zM438.8 1683.2h5v5h-5zM438.8 1704.0h5v5h-5zM445.1 1714.9h5v5h-5zM464.2 1707.3h5v5h-5zM469.2 1704.2h5v5h-5zM476.1 1702.7h5v5h-5z" fill="#33a02c"/>
<rect x="278.4" y="1720.9" width="7" height="7"/>
<path d="M116.6 1418.5V2085H810.7" fill="none" stroke="#000" stroke-width="2.6"/>
<line x1="110.4" y1="1449.2" x2="114.0" y2="1449.2" stroke="#000" stroke-width="3"/>
<text x="49.8" y="1457.8" font-size="25" textLength="48.7" lengthAdjust="spacingAndGlyphs">10.0</text>
<line x1="110.4" y1="1524.6" x2="114.0" y2="1524.6" stroke="#000" stroke-width="3"/>
<text x="63.8" y="1533.2" font-size="25" textLength="34.8" lengthAdjust="spacingAndGlyphs">7.5</text>
<line x1="110.4" y1="1600.0" x2="114.0" y2="1600.0" stroke="#000" stroke-width="3"/>
<text x="63.7" y="1608.6" font-size="25" textLength="34.8" lengthAdjust="spacingAndGlyphs">5.0</text>
<line x1="110.4" y1="1675.4" x2="114.0" y2="1675.4" stroke="#000" stroke-width="3"/>
<text x="63.8" y="1684.0" font-size="25" textLength="34.8" lengthAdjust="spacingAndGlyphs">2.5</text>
<line x1="110.4" y1="1750.8" x2="114.0" y2="1750.8" stroke="#000" stroke-width="3"/>
<text x="84.6" y="1759.4" font-size="25" textLength="13.9" lengthAdjust="spacingAndGlyphs">0</text>
<line x1="110.4" y1="1826.2" x2="114.0" y2="1826.2" stroke="#000" stroke-width="3"/>
<text x="49.2" y="1834.8" font-size="25" textLength="49.4" lengthAdjust="spacingAndGlyphs">−2.5</text>
<line x1="110.4" y1="1901.6" x2="114.0" y2="1901.6" stroke="#000" stroke-width="3"/>
<text x="49.1" y="1910.2" font-size="25" textLength="49.4" lengthAdjust="spacingAndGlyphs">−5.0</text>
<line x1="110.4" y1="1977.0" x2="114.0" y2="1977.0" stroke="#000" stroke-width="3"/>
<text x="49.2" y="1985.6" font-size="25" textLength="49.4" lengthAdjust="spacingAndGlyphs">−7.5</text>
<line x1="110.4" y1="2052.4" x2="114.0" y2="2052.4" stroke="#000" stroke-width="3"/>
<text x="35.2" y="2061.0" font-size="25" textLength="63.3" lengthAdjust="spacingAndGlyphs">−10.0</text>
<line x1="127.5" y1="2085.0" x2="127.5" y2="2089.6" stroke="#000" stroke-width="2.2"/>
<line x1="245.6" y1="2085.0" x2="245.6" y2="2089.6" stroke="#000" stroke-width="2.2"/>
<line x1="380.2" y1="2085.0" x2="380.2" y2="2089.6" stroke="#000" stroke-width="2.2"/>
<line x1="515.3" y1="2085.0" x2="515.3" y2="2089.6" stroke="#000" stroke-width="2.2"/>
<line x1="649.7" y1="2085.0" x2="649.7" y2="2089.6" stroke="#000" stroke-width="2.2"/>
<line x1="784.3" y1="2085.0" x2="784.3" y2="2089.6" stroke="#000" stroke-width="2.2"/>
<text x="104.7" y="2120.5" font-size="25.3" textLength="43.1" lengthAdjust="spacingAndGlyphs">−10</text>
<text x="230.4" y="2120.5" font-size="25.3" textLength="29.1" lengthAdjust="spacingAndGlyphs">−5</text>
<text x="372.4" y="2120.5" font-size="25.3" textLength="14.9" lengthAdjust="spacingAndGlyphs">0</text>
<text x="507.1" y="2120.5" font-size="25.3" textLength="14.8" lengthAdjust="spacingAndGlyphs">5</text>
<text x="637.0" y="2120.5" font-size="25.3" textLength="27.5" lengthAdjust="spacingAndGlyphs">10</text>
<text x="771.4" y="2120.5" font-size="25.3" textLength="27.8" lengthAdjust="spacingAndGlyphs">15</text>
<text x="207.8" y="2160.6" font-size="24.7" textLength="42.3" lengthAdjust="spacingAndGlyphs">Log</text>
<text x="249.5" y="2169.4" font-size="16" textLength="8.9" lengthAdjust="spacingAndGlyphs">2</text>
<text x="265.8" y="2160.6" font-size="24.7" textLength="454.5" lengthAdjust="spacingAndGlyphs">expression average FPKM (Mut and WT)</text>
<g transform="translate(21.2,1949.7) rotate(-90)"><text x="-2.0" y="0.0" font-size="26" textLength="42.3" lengthAdjust="spacingAndGlyphs">Log</text><text x="39.7" y="8.8" font-size="16" textLength="8.9" lengthAdjust="spacingAndGlyphs">2</text><text x="56.0" y="0.0" font-size="26" textLength="344.4" lengthAdjust="spacingAndGlyphs">average fold change  Mut - WT</text></g>
<text x="125.4" y="1441.7" font-size="24.5" textLength="177.6" lengthAdjust="spacingAndGlyphs">E6.5 Mut vs WT</text>
<text x="203.2" y="1473.7" font-size="25.3" textLength="517.4" lengthAdjust="spacingAndGlyphs" fill="#33a02c">Ifn- γ responsive genes (2 fold up, FDR &lt; 0.05)</text>
<text x="203.2" y="1503.0" font-size="25.3" textLength="519.3" lengthAdjust="spacingAndGlyphs" fill="#f89500">Ifn- γ responsive genes (non-sig diff or &lt; 2 fold)</text>
<line x1="352.0" y1="1553.8" x2="354.5" y2="1523.3" stroke="#000" stroke-width="2.6"/><path d="M355.0 1517.8L360.0 1529.8L354.4 1525.3L348.1 1528.8Z" fill="#000"/>
<line x1="451.8" y1="1552.9" x2="438.6" y2="1580.4" stroke="#000" stroke-width="2.6"/><path d="M436.2 1585.4L435.8 1572.4L439.4 1578.6L446.6 1577.6Z" fill="#000"/>
<line x1="239.3" y1="1707.8" x2="268.0" y2="1720.3" stroke="#000" stroke-width="2.6"/><path d="M273.0 1722.5L260.1 1723.4L266.1 1719.5L264.9 1712.4Z" fill="#000"/>
<line x1="335.2" y1="1669.4" x2="365.0" y2="1679.2" stroke="#000" stroke-width="2.6"/><path d="M370.2 1680.9L357.4 1683.0L363.1 1678.6L361.1 1671.6Z" fill="#000"/>
<line x1="388.9" y1="1667.1" x2="404.8" y2="1693.3" stroke="#000" stroke-width="2.6"/><path d="M407.6 1698.0L396.5 1691.3L403.7 1691.6L406.8 1685.1Z" fill="#000"/>
<line x1="430.3" y1="1648.4" x2="417.1" y2="1675.5" stroke="#000" stroke-width="2.6"/><path d="M414.7 1680.4L414.3 1667.4L418.0 1673.7L425.1 1672.7Z" fill="#000"/>
<line x1="368.4" y1="1728.3" x2="389.2" y2="1705.1" stroke="#000" stroke-width="2.6"/><path d="M392.9 1701.0L389.7 1713.6L387.9 1706.6L380.8 1705.6Z" fill="#000"/>
<line x1="523.8" y1="1636.2" x2="510.5" y2="1663.0" stroke="#000" stroke-width="2.6"/><path d="M508.0 1667.9L507.8 1654.9L511.3 1661.2L518.5 1660.3Z" fill="#000"/>
<line x1="570.7" y1="1660.3" x2="547.7" y2="1680.3" stroke="#000" stroke-width="2.6"/><path d="M543.6 1683.9L548.3 1671.8L549.3 1679.0L556.2 1680.9Z" fill="#000"/>
<line x1="522.5" y1="1705.2" x2="491.2" y2="1705.2" stroke="#000" stroke-width="2.6"/><path d="M485.7 1705.2L497.2 1699.2L493.2 1705.2L497.2 1711.2Z" fill="#000"/>
<text x="314.2" y="1577.5" font-size="22.5" textLength="69.0" lengthAdjust="spacingAndGlyphs" font-style="italic">Gbp2b</text>
<text x="438.6" y="1544.8" font-size="22.5" textLength="44.5" lengthAdjust="spacingAndGlyphs" font-style="italic">Xcl1</text>
<text x="278.9" y="1676.4" font-size="22.5" textLength="45.8" lengthAdjust="spacingAndGlyphs" font-style="italic">Ciita</text>
<text x="350.8" y="1657.0" font-size="22.5" textLength="45.3" lengthAdjust="spacingAndGlyphs" font-style="italic">Ccl2</text>
<text x="423.2" y="1641.8" font-size="22.5" textLength="46.1" lengthAdjust="spacingAndGlyphs" font-style="italic">Ccl7</text>
<text x="195.6" y="1710.8" font-size="22.5" textLength="36.1" lengthAdjust="spacingAndGlyphs" font-style="italic">Ifnγ</text>
<text x="293.4" y="1748.2" font-size="22.5" textLength="59.0" lengthAdjust="spacingAndGlyphs" font-style="italic">Ccl12</text>
<text x="493.4" y="1631.1" font-size="22.5" textLength="78.1" lengthAdjust="spacingAndGlyphs" font-style="italic">H2-Ab1</text>
<text x="566.9" y="1656.0" font-size="22.5" textLength="55.4" lengthAdjust="spacingAndGlyphs" font-style="italic">Cd74</text>
<text x="528.9" y="1713.6" font-size="22.5" textLength="56.6" lengthAdjust="spacingAndGlyphs" font-style="italic">Gbp2</text>
<text x="1020.1" y="1506.9" font-size="25.5" textLength="431.5" lengthAdjust="spacingAndGlyphs">Ifn- γ E6.5 decidual expression (qPCR)</text>
<path d="M1136.6 1557.9V1954.5H1399.6" stroke="#000" stroke-width="4" fill="none"/>
<line x1="1120.4" y1="1559.5" x2="1136.6" y2="1559.5" stroke="#000" stroke-width="3.2"/>
<line x1="1120.4" y1="1691.2" x2="1136.6" y2="1691.2" stroke="#000" stroke-width="3.2"/>
<line x1="1120.4" y1="1822.8" x2="1136.6" y2="1822.8" stroke="#000" stroke-width="3.2"/>
<line x1="1120.4" y1="1954.5" x2="1136.6" y2="1954.5" stroke="#000" stroke-width="3.2"/>
<text x="1080.7" y="1568.0" font-size="23.7" textLength="28.3" lengthAdjust="spacingAndGlyphs">15</text>
<text x="1080.7" y="1699.6" font-size="23.7" textLength="28.1" lengthAdjust="spacingAndGlyphs">10</text>
<text x="1094.7" y="1831.1" font-size="23.7" textLength="14.2" lengthAdjust="spacingAndGlyphs">5</text>
<text x="1094.6" y="1963.0" font-size="23.7" textLength="14.2" lengthAdjust="spacingAndGlyphs">0</text>
<line x1="1211.5" y1="1954.5" x2="1211.5" y2="1970.6" stroke="#000" stroke-width="3.2"/>
<line x1="1324.7" y1="1954.5" x2="1324.7" y2="1970.6" stroke="#000" stroke-width="3.2"/>
<text x="1193.1" y="2002.1" font-size="24.5" textLength="37.6" lengthAdjust="spacingAndGlyphs">WT</text>
<text x="1304.0" y="2002.1" font-size="24.5" textLength="42.6" lengthAdjust="spacingAndGlyphs">Mut</text>
<circle cx="1211.5" cy="1863.4" r="6.3"/>
<circle cx="1188.1" cy="1940.9" r="6.3"/>
<circle cx="1211.5" cy="1931.5" r="6.3"/>
<circle cx="1235.3" cy="1938.3" r="6.3"/>
<circle cx="1324.7" cy="1687.2" r="6.3"/>
<circle cx="1324.7" cy="1780.9" r="6.3"/>
<circle cx="1324.7" cy="1808.9" r="6.3"/>
<circle cx="1324.7" cy="1885.1" r="6.3"/>
<line x1="1174.0" y1="1918.3" x2="1249.4" y2="1918.3" stroke="#000" stroke-width="2.4"/>
<line x1="1286.8" y1="1790.6" x2="1362.1" y2="1790.6" stroke="#000" stroke-width="2.4"/>
<path d="M1203.8 1641V1619.4H1327.6V1641" stroke="#000" stroke-width="2.6" fill="none"/>
<text x="1258.5" y="1622.1" font-size="27" textLength="10.3" lengthAdjust="spacingAndGlyphs">*</text>
<g transform="translate(1063.0,1866.6) rotate(-90)"><text x="-0.7" y="0.0" font-size="26" textLength="230.0" lengthAdjust="spacingAndGlyphs">ΔΔ  Ct Relative to WT</text></g>
</svg></body></html>
